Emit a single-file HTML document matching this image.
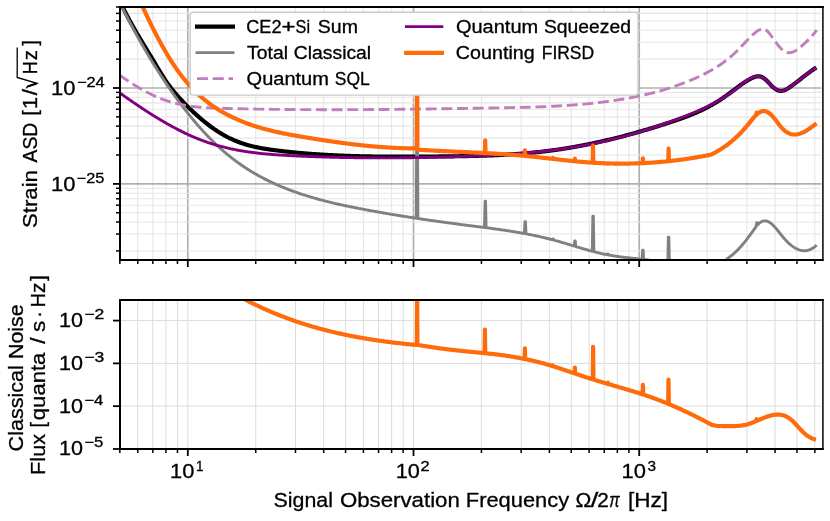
<!DOCTYPE html>
<html><head><meta charset="utf-8"><title>Strain ASD</title>
<style>
html,body{margin:0;padding:0;background:#fff;}
body{width:830px;height:521px;overflow:hidden;font-family:"Liberation Sans",sans-serif;}
svg{display:block;will-change:transform;}
svg text{font-family:"Liberation Sans",sans-serif;fill:#000;stroke:#000;stroke-width:0.3px;}
</style></head><body>
<svg width="830" height="521" viewBox="0 0 830 521">
<defs>
<clipPath id="c1"><rect x="120.00" y="7.00" width="703.00" height="253.00"/></clipPath>
<clipPath id="c2"><rect x="120.00" y="300.00" width="703.00" height="149.00"/></clipPath>
</defs>
<rect width="830" height="521" fill="#fff"/>
<g><line x1="187.80" y1="7.00" x2="187.80" y2="260.00" stroke="#b0b0b0" stroke-width="1.7"/><line x1="413.50" y1="7.00" x2="413.50" y2="260.00" stroke="#b0b0b0" stroke-width="1.7"/><line x1="639.20" y1="7.00" x2="639.20" y2="260.00" stroke="#b0b0b0" stroke-width="1.7"/><line x1="137.73" y1="7.00" x2="137.73" y2="260.00" stroke="#e6e6e6" stroke-width="1.1"/><line x1="152.84" y1="7.00" x2="152.84" y2="260.00" stroke="#e6e6e6" stroke-width="1.1"/><line x1="165.93" y1="7.00" x2="165.93" y2="260.00" stroke="#e6e6e6" stroke-width="1.1"/><line x1="177.47" y1="7.00" x2="177.47" y2="260.00" stroke="#e6e6e6" stroke-width="1.1"/><line x1="255.74" y1="7.00" x2="255.74" y2="260.00" stroke="#e6e6e6" stroke-width="1.1"/><line x1="295.49" y1="7.00" x2="295.49" y2="260.00" stroke="#e6e6e6" stroke-width="1.1"/><line x1="323.68" y1="7.00" x2="323.68" y2="260.00" stroke="#e6e6e6" stroke-width="1.1"/><line x1="345.56" y1="7.00" x2="345.56" y2="260.00" stroke="#e6e6e6" stroke-width="1.1"/><line x1="363.43" y1="7.00" x2="363.43" y2="260.00" stroke="#e6e6e6" stroke-width="1.1"/><line x1="378.54" y1="7.00" x2="378.54" y2="260.00" stroke="#e6e6e6" stroke-width="1.1"/><line x1="391.63" y1="7.00" x2="391.63" y2="260.00" stroke="#e6e6e6" stroke-width="1.1"/><line x1="403.17" y1="7.00" x2="403.17" y2="260.00" stroke="#e6e6e6" stroke-width="1.1"/><line x1="481.44" y1="7.00" x2="481.44" y2="260.00" stroke="#e6e6e6" stroke-width="1.1"/><line x1="521.19" y1="7.00" x2="521.19" y2="260.00" stroke="#e6e6e6" stroke-width="1.1"/><line x1="549.38" y1="7.00" x2="549.38" y2="260.00" stroke="#e6e6e6" stroke-width="1.1"/><line x1="571.26" y1="7.00" x2="571.26" y2="260.00" stroke="#e6e6e6" stroke-width="1.1"/><line x1="589.13" y1="7.00" x2="589.13" y2="260.00" stroke="#e6e6e6" stroke-width="1.1"/><line x1="604.24" y1="7.00" x2="604.24" y2="260.00" stroke="#e6e6e6" stroke-width="1.1"/><line x1="617.33" y1="7.00" x2="617.33" y2="260.00" stroke="#e6e6e6" stroke-width="1.1"/><line x1="628.87" y1="7.00" x2="628.87" y2="260.00" stroke="#e6e6e6" stroke-width="1.1"/><line x1="707.14" y1="7.00" x2="707.14" y2="260.00" stroke="#e6e6e6" stroke-width="1.1"/><line x1="746.89" y1="7.00" x2="746.89" y2="260.00" stroke="#e6e6e6" stroke-width="1.1"/><line x1="775.08" y1="7.00" x2="775.08" y2="260.00" stroke="#e6e6e6" stroke-width="1.1"/><line x1="796.96" y1="7.00" x2="796.96" y2="260.00" stroke="#e6e6e6" stroke-width="1.1"/><line x1="814.83" y1="7.00" x2="814.83" y2="260.00" stroke="#e6e6e6" stroke-width="1.1"/><line x1="120.00" y1="88.00" x2="821.30" y2="88.00" stroke="#b0b0b0" stroke-width="1.7"/><line x1="120.00" y1="183.90" x2="821.30" y2="183.90" stroke="#b0b0b0" stroke-width="1.7"/><line x1="120.00" y1="59.13" x2="821.30" y2="59.13" stroke="#e6e6e6" stroke-width="1.1"/><line x1="120.00" y1="42.24" x2="821.30" y2="42.24" stroke="#e6e6e6" stroke-width="1.1"/><line x1="120.00" y1="30.26" x2="821.30" y2="30.26" stroke="#e6e6e6" stroke-width="1.1"/><line x1="120.00" y1="20.97" x2="821.30" y2="20.97" stroke="#e6e6e6" stroke-width="1.1"/><line x1="120.00" y1="13.38" x2="821.30" y2="13.38" stroke="#e6e6e6" stroke-width="1.1"/><line x1="120.00" y1="155.03" x2="821.30" y2="155.03" stroke="#e6e6e6" stroke-width="1.1"/><line x1="120.00" y1="138.14" x2="821.30" y2="138.14" stroke="#e6e6e6" stroke-width="1.1"/><line x1="120.00" y1="126.16" x2="821.30" y2="126.16" stroke="#e6e6e6" stroke-width="1.1"/><line x1="120.00" y1="116.87" x2="821.30" y2="116.87" stroke="#e6e6e6" stroke-width="1.1"/><line x1="120.00" y1="109.28" x2="821.30" y2="109.28" stroke="#e6e6e6" stroke-width="1.1"/><line x1="120.00" y1="102.86" x2="821.30" y2="102.86" stroke="#e6e6e6" stroke-width="1.1"/><line x1="120.00" y1="97.29" x2="821.30" y2="97.29" stroke="#e6e6e6" stroke-width="1.1"/><line x1="120.00" y1="92.39" x2="821.30" y2="92.39" stroke="#e6e6e6" stroke-width="1.1"/><line x1="120.00" y1="250.93" x2="821.30" y2="250.93" stroke="#e6e6e6" stroke-width="1.1"/><line x1="120.00" y1="234.04" x2="821.30" y2="234.04" stroke="#e6e6e6" stroke-width="1.1"/><line x1="120.00" y1="222.06" x2="821.30" y2="222.06" stroke="#e6e6e6" stroke-width="1.1"/><line x1="120.00" y1="212.77" x2="821.30" y2="212.77" stroke="#e6e6e6" stroke-width="1.1"/><line x1="120.00" y1="205.18" x2="821.30" y2="205.18" stroke="#e6e6e6" stroke-width="1.1"/><line x1="120.00" y1="198.76" x2="821.30" y2="198.76" stroke="#e6e6e6" stroke-width="1.1"/><line x1="120.00" y1="193.19" x2="821.30" y2="193.19" stroke="#e6e6e6" stroke-width="1.1"/><line x1="120.00" y1="188.29" x2="821.30" y2="188.29" stroke="#e6e6e6" stroke-width="1.1"/></g>
<g><line x1="137.73" y1="300.00" x2="137.73" y2="449.00" stroke="#dcdcdc" stroke-width="1"/><line x1="152.84" y1="300.00" x2="152.84" y2="449.00" stroke="#dcdcdc" stroke-width="1"/><line x1="165.93" y1="300.00" x2="165.93" y2="449.00" stroke="#dcdcdc" stroke-width="1"/><line x1="177.47" y1="300.00" x2="177.47" y2="449.00" stroke="#dcdcdc" stroke-width="1"/><line x1="255.74" y1="300.00" x2="255.74" y2="449.00" stroke="#dcdcdc" stroke-width="1"/><line x1="295.49" y1="300.00" x2="295.49" y2="449.00" stroke="#dcdcdc" stroke-width="1"/><line x1="323.68" y1="300.00" x2="323.68" y2="449.00" stroke="#dcdcdc" stroke-width="1"/><line x1="345.56" y1="300.00" x2="345.56" y2="449.00" stroke="#dcdcdc" stroke-width="1"/><line x1="363.43" y1="300.00" x2="363.43" y2="449.00" stroke="#dcdcdc" stroke-width="1"/><line x1="378.54" y1="300.00" x2="378.54" y2="449.00" stroke="#dcdcdc" stroke-width="1"/><line x1="391.63" y1="300.00" x2="391.63" y2="449.00" stroke="#dcdcdc" stroke-width="1"/><line x1="403.17" y1="300.00" x2="403.17" y2="449.00" stroke="#dcdcdc" stroke-width="1"/><line x1="481.44" y1="300.00" x2="481.44" y2="449.00" stroke="#dcdcdc" stroke-width="1"/><line x1="521.19" y1="300.00" x2="521.19" y2="449.00" stroke="#dcdcdc" stroke-width="1"/><line x1="549.38" y1="300.00" x2="549.38" y2="449.00" stroke="#dcdcdc" stroke-width="1"/><line x1="571.26" y1="300.00" x2="571.26" y2="449.00" stroke="#dcdcdc" stroke-width="1"/><line x1="589.13" y1="300.00" x2="589.13" y2="449.00" stroke="#dcdcdc" stroke-width="1"/><line x1="604.24" y1="300.00" x2="604.24" y2="449.00" stroke="#dcdcdc" stroke-width="1"/><line x1="617.33" y1="300.00" x2="617.33" y2="449.00" stroke="#dcdcdc" stroke-width="1"/><line x1="628.87" y1="300.00" x2="628.87" y2="449.00" stroke="#dcdcdc" stroke-width="1"/><line x1="707.14" y1="300.00" x2="707.14" y2="449.00" stroke="#dcdcdc" stroke-width="1"/><line x1="746.89" y1="300.00" x2="746.89" y2="449.00" stroke="#dcdcdc" stroke-width="1"/><line x1="775.08" y1="300.00" x2="775.08" y2="449.00" stroke="#dcdcdc" stroke-width="1"/><line x1="796.96" y1="300.00" x2="796.96" y2="449.00" stroke="#dcdcdc" stroke-width="1"/><line x1="814.83" y1="300.00" x2="814.83" y2="449.00" stroke="#dcdcdc" stroke-width="1"/><line x1="187.80" y1="300.00" x2="187.80" y2="449.00" stroke="#dcdcdc" stroke-width="1"/><line x1="413.50" y1="300.00" x2="413.50" y2="449.00" stroke="#dcdcdc" stroke-width="1"/><line x1="639.20" y1="300.00" x2="639.20" y2="449.00" stroke="#dcdcdc" stroke-width="1"/><line x1="120.00" y1="320.60" x2="821.30" y2="320.60" stroke="#dcdcdc" stroke-width="1"/><line x1="120.00" y1="363.38" x2="821.30" y2="363.38" stroke="#dcdcdc" stroke-width="1"/><line x1="120.00" y1="406.16" x2="821.30" y2="406.16" stroke="#dcdcdc" stroke-width="1"/></g>
<g clip-path="url(#c1)" fill="none" stroke-linejoin="round" stroke-linecap="butt">
<path d="M119.30 -0.01 L120.30 2.14 L121.30 4.24 L122.30 6.31 L123.30 8.34 L124.30 10.34 L125.30 12.31 L126.30 14.25 L127.30 16.15 L128.30 18.03 L129.30 19.89 L130.30 21.72 L131.30 23.52 L132.30 25.31 L133.30 27.08 L134.30 28.82 L135.30 30.55 L136.30 32.27 L137.30 33.97 L138.30 35.66 L139.30 37.34 L140.30 39.01 L141.30 40.67 L142.30 42.32 L143.30 43.98 L144.30 45.62 L145.30 47.27 L146.30 48.92 L147.30 50.57 L148.30 52.22 L149.30 53.87 L150.30 55.53 L151.30 57.19 L152.30 58.86 L153.30 60.52 L154.30 62.19 L155.30 63.87 L156.30 65.54 L157.30 67.21 L158.30 68.87 L159.30 70.53 L160.30 72.17 L161.30 73.79 L162.30 75.40 L163.30 76.98 L164.30 78.54 L165.30 80.06 L166.30 81.55 L167.30 83.01 L168.30 84.42 L169.30 85.79 L170.30 87.12 L171.30 88.42 L172.30 89.68 L173.30 90.91 L174.30 92.12 L175.30 93.29 L176.30 94.45 L177.30 95.59 L178.30 96.71 L179.30 97.81 L180.30 98.90 L181.30 99.98 L182.30 101.04 L183.30 102.09 L184.30 103.13 L185.30 104.15 L186.30 105.16 L187.30 106.16 L188.30 107.16 L189.30 108.14 L190.30 109.11 L191.30 110.07 L192.30 111.02 L193.30 111.96 L194.30 112.89 L195.30 113.80 L196.30 114.71 L197.30 115.61 L198.30 116.49 L199.30 117.37 L200.30 118.23 L201.30 119.08 L202.30 119.92 L203.30 120.75 L204.30 121.57 L205.30 122.38 L206.30 123.17 L207.30 123.96 L208.30 124.73 L209.30 125.49 L210.30 126.23 L211.30 126.97 L212.30 127.69 L213.30 128.40 L214.30 129.10 L215.30 129.78 L216.30 130.46 L217.30 131.12 L218.30 131.76 L219.30 132.40 L220.30 133.02 L221.30 133.63 L222.30 134.22 L223.30 134.81 L224.30 135.37 L225.30 135.93 L226.30 136.47 L227.30 137.00 L228.30 137.51 L229.30 138.02 L230.30 138.50 L231.30 138.98 L232.30 139.44 L233.30 139.88 L234.30 140.32 L235.30 140.74 L236.30 141.15 L237.30 141.55 L238.30 141.93 L239.30 142.31 L240.30 142.67 L241.30 143.02 L242.30 143.37 L243.30 143.70 L244.30 144.02 L245.30 144.33 L246.30 144.63 L247.30 144.92 L248.30 145.20 L249.30 145.48 L250.30 145.74 L251.30 146.00 L252.30 146.24 L253.30 146.48 L254.30 146.72 L255.30 146.94 L256.30 147.16 L257.30 147.37 L258.30 147.57 L259.30 147.77 L260.30 147.96 L261.30 148.15 L262.30 148.33 L263.30 148.50 L264.30 148.67 L265.30 148.84 L266.30 149.00 L267.30 149.15 L268.30 149.30 L269.30 149.45 L270.30 149.59 L271.30 149.73 L272.30 149.87 L273.30 150.01 L274.30 150.14 L275.30 150.27 L276.30 150.39 L277.30 150.52 L278.30 150.64 L279.30 150.76 L280.30 150.89 L281.30 151.00 L282.30 151.12 L283.30 151.24 L284.30 151.35 L285.30 151.46 L286.30 151.57 L287.30 151.68 L288.30 151.79 L289.30 151.90 L290.30 152.00 L291.30 152.11 L292.30 152.21 L293.30 152.31 L294.30 152.41 L295.30 152.51 L296.30 152.60 L297.30 152.70 L298.30 152.79 L299.30 152.88 L300.30 152.97 L301.30 153.06 L302.30 153.15 L303.30 153.24 L304.30 153.32 L305.30 153.41 L306.30 153.49 L307.30 153.57 L308.30 153.65 L309.30 153.73 L310.30 153.81 L311.30 153.88 L312.30 153.96 L313.30 154.03 L314.30 154.10 L315.30 154.17 L316.30 154.24 L317.30 154.31 L318.30 154.38 L319.30 154.44 L320.30 154.51 L321.30 154.57 L322.30 154.64 L323.30 154.70 L324.30 154.76 L325.30 154.82 L326.30 154.87 L327.30 154.93 L328.30 154.99 L329.30 155.04 L330.30 155.09 L331.30 155.15 L332.30 155.20 L333.30 155.25 L334.30 155.30 L335.30 155.34 L336.30 155.39 L337.30 155.44 L338.30 155.48 L339.30 155.52 L340.30 155.57 L341.30 155.61 L342.30 155.65 L343.30 155.69 L344.30 155.73 L345.30 155.77 L346.30 155.80 L347.30 155.84 L348.30 155.87 L349.30 155.91 L350.30 155.94 L351.30 155.97 L352.30 156.01 L353.30 156.04 L354.30 156.07 L355.30 156.10 L356.30 156.12 L357.30 156.15 L358.30 156.18 L359.30 156.20 L360.30 156.23 L361.30 156.25 L362.30 156.27 L363.30 156.30 L364.30 156.32 L365.30 156.34 L366.30 156.36 L367.30 156.38 L368.30 156.40 L369.30 156.42 L370.30 156.43 L371.30 156.45 L372.30 156.46 L373.30 156.48 L374.30 156.49 L375.30 156.51 L376.30 156.52 L377.30 156.53 L378.30 156.54 L379.30 156.56 L380.30 156.57 L381.30 156.58 L382.30 156.59 L383.30 156.59 L384.30 156.60 L385.30 156.61 L386.30 156.62 L387.30 156.62 L388.30 156.63 L389.30 156.64 L390.30 156.64 L391.30 156.64 L392.30 156.65 L393.30 156.65 L394.30 156.66 L395.30 156.66 L396.30 156.66 L397.30 156.66 L398.30 156.66 L399.30 156.66 L400.30 156.66 L401.30 156.66 L402.30 156.66 L403.30 156.66 L404.30 156.66 L405.30 156.66 L406.30 156.66 L407.30 156.65 L408.30 156.65 L409.30 156.65 L410.30 156.64 L411.30 156.64 L412.30 156.64 L413.30 156.63 L414.30 156.63 L415.30 156.62 L416.30 156.62 L417.30 156.61 L418.30 156.61 L419.30 156.60 L420.30 156.60 L421.30 156.59 L422.30 156.58 L423.30 156.58 L424.30 156.57 L425.30 156.56 L426.30 156.55 L427.30 156.55 L428.30 156.54 L429.30 156.53 L430.30 156.52 L431.30 156.52 L432.30 156.51 L433.30 156.50 L434.30 156.49 L435.30 156.48 L436.30 156.47 L437.30 156.47 L438.30 156.46 L439.30 156.45 L440.30 156.44 L441.30 156.43 L442.30 156.42 L443.30 156.41 L444.30 156.40 L445.30 156.39 L446.30 156.38 L447.30 156.37 L448.30 156.36 L449.30 156.35 L450.30 156.34 L451.30 156.33 L452.30 156.31 L453.30 156.30 L454.30 156.29 L455.30 156.27 L456.30 156.26 L457.30 156.25 L458.30 156.23 L459.30 156.22 L460.30 156.20 L461.30 156.18 L462.30 156.17 L463.30 156.15 L464.30 156.13 L465.30 156.11 L466.30 156.10 L467.30 156.08 L468.30 156.06 L469.30 156.04 L470.30 156.01 L471.30 155.99 L472.30 155.97 L473.30 155.94 L474.30 155.92 L475.30 155.90 L476.30 155.87 L477.30 155.84 L478.30 155.82 L479.30 155.79 L480.30 155.76 L481.30 155.73 L482.30 155.70 L483.30 155.67 L484.30 155.63 L485.30 155.60 L486.30 155.57 L487.30 155.53 L488.30 155.49 L489.30 155.46 L490.30 155.42 L491.30 155.38 L492.30 155.34 L493.30 155.30 L494.30 155.25 L495.30 155.21 L496.30 155.17 L497.30 155.12 L498.30 155.07 L499.30 155.03 L500.30 154.98 L501.30 154.93 L502.30 154.87 L503.30 154.82 L504.30 154.77 L505.30 154.71 L506.30 154.65 L507.30 154.60 L508.30 154.54 L509.30 154.48 L510.30 154.42 L511.30 154.35 L512.30 154.29 L513.30 154.22 L514.30 154.15 L515.30 154.08 L516.30 154.01 L517.30 153.94 L518.30 153.87 L519.30 153.79 L520.30 153.72 L521.30 153.64 L522.30 153.56 L523.30 153.48 L524.30 153.40 L525.30 153.31 L526.30 153.23 L527.30 153.14 L528.30 153.05 L529.30 152.96 L530.30 152.87 L531.30 152.78 L532.30 152.68 L533.30 152.58 L534.30 152.48 L535.30 152.38 L536.30 152.28 L537.30 152.18 L538.30 152.07 L539.30 151.96 L540.30 151.85 L541.30 151.74 L542.30 151.63 L543.30 151.51 L544.30 151.39 L545.30 151.27 L546.30 151.15 L547.30 151.03 L548.30 150.90 L549.30 150.78 L550.30 150.65 L551.30 150.52 L552.30 150.38 L553.30 150.25 L554.30 150.11 L555.30 149.97 L556.30 149.83 L557.30 149.69 L558.30 149.54 L559.30 149.39 L560.30 149.25 L561.30 149.09 L562.30 148.94 L563.30 148.79 L564.30 148.63 L565.30 148.47 L566.30 148.31 L567.30 148.15 L568.30 147.98 L569.30 147.82 L570.30 147.65 L571.30 147.48 L572.30 147.31 L573.30 147.13 L574.30 146.96 L575.30 146.78 L576.30 146.60 L577.30 146.42 L578.30 146.23 L579.30 146.05 L580.30 145.86 L581.30 145.67 L582.30 145.48 L583.30 145.29 L584.30 145.09 L585.30 144.90 L586.30 144.70 L587.30 144.50 L588.30 144.30 L589.30 144.09 L590.30 143.89 L591.30 143.68 L592.30 143.47 L593.30 143.26 L594.30 143.05 L595.30 142.84 L596.30 142.62 L597.30 142.40 L598.30 142.18 L599.30 141.96 L600.30 141.74 L601.30 141.52 L602.30 141.29 L603.30 141.06 L604.30 140.83 L605.30 140.60 L606.30 140.37 L607.30 140.13 L608.30 139.90 L609.30 139.66 L610.30 139.42 L611.30 139.18 L612.30 138.94 L613.30 138.69 L614.30 138.44 L615.30 138.20 L616.30 137.95 L617.30 137.70 L618.30 137.44 L619.30 137.19 L620.30 136.93 L621.30 136.68 L622.30 136.42 L623.30 136.16 L624.30 135.89 L625.30 135.63 L626.30 135.36 L627.30 135.10 L628.30 134.83 L629.30 134.56 L630.30 134.29 L631.30 134.01 L632.30 133.74 L633.30 133.46 L634.30 133.19 L635.30 132.91 L636.30 132.63 L637.30 132.34 L638.30 132.06 L639.30 131.77 L640.30 131.49 L641.30 131.20 L642.30 130.91 L643.30 130.62 L644.30 130.33 L645.30 130.03 L646.30 129.74 L647.30 129.44 L648.30 129.14 L649.30 128.84 L650.30 128.54 L651.30 128.24 L652.30 127.93 L653.30 127.63 L654.30 127.32 L655.30 127.01 L656.30 126.70 L657.30 126.39 L658.30 126.08 L659.30 125.76 L660.30 125.45 L661.30 125.13 L662.30 124.81 L663.30 124.49 L664.30 124.17 L665.30 123.85 L666.30 123.53 L667.30 123.20 L668.30 122.88 L669.30 122.55 L670.30 122.22 L671.30 121.89 L672.30 121.56 L673.30 121.23 L674.30 120.89 L675.30 120.55 L676.30 120.21 L677.30 119.87 L678.30 119.52 L679.30 119.17 L680.30 118.82 L681.30 118.46 L682.30 118.10 L683.30 117.73 L684.30 117.37 L685.30 116.99 L686.30 116.62 L687.30 116.23 L688.30 115.85 L689.30 115.46 L690.30 115.06 L691.30 114.66 L692.30 114.25 L693.30 113.84 L694.30 113.42 L695.30 112.99 L696.30 112.56 L697.30 112.12 L698.30 111.67 L699.30 111.22 L700.30 110.76 L701.30 110.29 L702.30 109.82 L703.30 109.33 L704.30 108.84 L705.30 108.35 L706.30 107.84 L707.30 107.32 L708.30 106.80 L709.30 106.27 L710.30 105.72 L711.30 105.17 L712.30 104.61 L713.30 104.04 L714.30 103.46 L715.30 102.87 L716.30 102.27 L717.30 101.66 L718.30 101.04 L719.30 100.40 L720.30 99.76 L721.30 99.10 L722.30 98.44 L723.30 97.76 L724.30 97.07 L725.30 96.37 L726.30 95.65 L727.30 94.93 L728.30 94.20 L729.30 93.46 L730.30 92.71 L731.30 91.96 L732.30 91.21 L733.30 90.46 L734.30 89.71 L735.30 88.96 L736.30 88.21 L737.30 87.46 L738.30 86.73 L739.30 86.00 L740.30 85.28 L741.30 84.57 L742.30 83.87 L743.30 83.19 L744.30 82.52 L745.30 81.87 L746.30 81.24 L747.30 80.62 L748.30 80.03 L749.30 79.46 L750.30 78.91 L751.30 78.39 L752.30 77.90 L753.30 77.46 L754.30 77.06 L755.30 76.73 L756.30 76.48 L757.30 76.32 L758.30 76.26 L759.30 76.31 L760.30 76.48 L761.30 76.78 L762.30 77.24 L763.30 77.83 L764.30 78.54 L765.30 79.35 L766.30 80.26 L767.30 81.25 L768.30 82.28 L769.30 83.34 L770.30 84.41 L771.30 85.45 L772.30 86.44 L773.30 87.36 L774.30 88.19 L775.30 88.92 L776.30 89.54 L777.30 90.06 L778.30 90.46 L779.30 90.73 L780.30 90.88 L781.30 90.90 L782.30 90.79 L783.30 90.57 L784.30 90.25 L785.30 89.84 L786.30 89.36 L787.30 88.80 L788.30 88.19 L789.30 87.53 L790.30 86.84 L791.30 86.12 L792.30 85.39 L793.30 84.66 L794.30 83.91 L795.30 83.15 L796.30 82.39 L797.30 81.62 L798.30 80.85 L799.30 80.07 L800.30 79.29 L801.30 78.51 L802.30 77.73 L803.30 76.96 L804.30 76.18 L805.30 75.41 L806.30 74.64 L807.30 73.88 L808.30 73.13 L809.30 72.38 L810.30 71.65 L811.30 70.92 L812.30 70.21 L813.30 69.51 L814.30 68.83 L815.30 68.16 L816.30 67.51" stroke="#000" stroke-width="4.17"/>
<path d="M118.60 0.00 L119.60 2.05 L120.60 4.09 L121.60 6.11 L122.60 8.12 L123.60 10.11 L124.60 12.09 L125.60 14.06 L126.60 16.01 L127.60 17.95 L128.60 19.88 L129.60 21.80 L130.60 23.70 L131.60 25.59 L132.60 27.46 L133.60 29.33 L134.60 31.18 L135.60 33.02 L136.60 34.84 L137.60 36.66 L138.60 38.46 L139.60 40.25 L140.60 42.02 L141.60 43.79 L142.60 45.54 L143.60 47.28 L144.60 49.01 L145.60 50.72 L146.60 52.43 L147.60 54.12 L148.60 55.80 L149.60 57.47 L150.60 59.13 L151.60 60.78 L152.60 62.41 L153.60 64.04 L154.60 65.65 L155.60 67.25 L156.60 68.84 L157.60 70.42 L158.60 71.99 L159.60 73.55 L160.60 75.10 L161.60 76.63 L162.60 78.16 L163.60 79.67 L164.60 81.18 L165.60 82.67 L166.60 84.16 L167.60 85.63 L168.60 87.10 L169.60 88.55 L170.60 89.99 L171.60 91.42 L172.60 92.85 L173.60 94.26 L174.60 95.66 L175.60 97.05 L176.60 98.43 L177.60 99.80 L178.60 101.16 L179.60 102.51 L180.60 103.85 L181.60 105.18 L182.60 106.50 L183.60 107.80 L184.60 109.10 L185.60 110.38 L186.60 111.66 L187.60 112.92 L188.60 114.18 L189.60 115.42 L190.60 116.66 L191.60 117.88 L192.60 119.09 L193.60 120.29 L194.60 121.48 L195.60 122.66 L196.60 123.83 L197.60 124.98 L198.60 126.13 L199.60 127.27 L200.60 128.39 L201.60 129.51 L202.60 130.61 L203.60 131.70 L204.60 132.78 L205.60 133.86 L206.60 134.91 L207.60 135.96 L208.60 137.00 L209.60 138.03 L210.60 139.04 L211.60 140.05 L212.60 141.04 L213.60 142.03 L214.60 143.00 L215.60 143.96 L216.60 144.91 L217.60 145.85 L218.60 146.77 L219.60 147.69 L220.60 148.60 L221.60 149.49 L222.60 150.37 L223.60 151.24 L224.60 152.11 L225.60 152.96 L226.60 153.80 L227.60 154.62 L228.60 155.44 L229.60 156.25 L230.60 157.05 L231.60 157.84 L232.60 158.62 L233.60 159.38 L234.60 160.14 L235.60 160.89 L236.60 161.63 L237.60 162.36 L238.60 163.08 L239.60 163.79 L240.60 164.49 L241.60 165.19 L242.60 165.87 L243.60 166.54 L244.60 167.21 L245.60 167.87 L246.60 168.52 L247.60 169.16 L248.60 169.79 L249.60 170.42 L250.60 171.03 L251.60 171.64 L252.60 172.24 L253.60 172.83 L254.60 173.42 L255.60 174.00 L256.60 174.57 L257.60 175.13 L258.60 175.69 L259.60 176.23 L260.60 176.78 L261.60 177.31 L262.60 177.84 L263.60 178.36 L264.60 178.88 L265.60 179.38 L266.60 179.89 L267.60 180.38 L268.60 180.87 L269.60 181.35 L270.60 181.83 L271.60 182.30 L272.60 182.77 L273.60 183.23 L274.60 183.69 L275.60 184.14 L276.60 184.58 L277.60 185.02 L278.60 185.45 L279.60 185.88 L280.60 186.31 L281.60 186.73 L282.60 187.14 L283.60 187.55 L284.60 187.96 L285.60 188.36 L286.60 188.75 L287.60 189.15 L288.60 189.53 L289.60 189.92 L290.60 190.29 L291.60 190.67 L292.60 191.04 L293.60 191.40 L294.60 191.76 L295.60 192.12 L296.60 192.47 L297.60 192.82 L298.60 193.17 L299.60 193.51 L300.60 193.85 L301.60 194.18 L302.60 194.51 L303.60 194.83 L304.60 195.16 L305.60 195.47 L306.60 195.79 L307.60 196.10 L308.60 196.41 L309.60 196.71 L310.60 197.01 L311.60 197.31 L312.60 197.60 L313.60 197.89 L314.60 198.18 L315.60 198.46 L316.60 198.75 L317.60 199.02 L318.60 199.30 L319.60 199.57 L320.60 199.84 L321.60 200.11 L322.60 200.37 L323.60 200.63 L324.60 200.89 L325.60 201.14 L326.60 201.40 L327.60 201.65 L328.60 201.89 L329.60 202.14 L330.60 202.38 L331.60 202.62 L332.60 202.86 L333.60 203.09 L334.60 203.33 L335.60 203.56 L336.60 203.79 L337.60 204.01 L338.60 204.24 L339.60 204.46 L340.60 204.68 L341.60 204.90 L342.60 205.12 L343.60 205.33 L344.60 205.55 L345.60 205.76 L346.60 205.97 L347.60 206.18 L348.60 206.38 L349.60 206.59 L350.60 206.79 L351.60 207.00 L352.60 207.20 L353.60 207.40 L354.60 207.60 L355.60 207.79 L356.60 207.99 L357.60 208.18 L358.60 208.38 L359.60 208.57 L360.60 208.76 L361.60 208.95 L362.60 209.14 L363.60 209.33 L364.60 209.52 L365.60 209.71 L366.60 209.90 L367.60 210.08 L368.60 210.27 L369.60 210.45 L370.60 210.64 L371.60 210.82 L372.60 211.00 L373.60 211.18 L374.60 211.36 L375.60 211.54 L376.60 211.72 L377.60 211.90 L378.60 212.08 L379.60 212.25 L380.60 212.43 L381.60 212.61 L382.60 212.78 L383.60 212.95 L384.60 213.13 L385.60 213.30 L386.60 213.47 L387.60 213.64 L388.60 213.81 L389.60 213.98 L390.60 214.15 L391.60 214.32 L392.60 214.48 L393.60 214.65 L394.60 214.82 L395.60 214.98 L396.60 215.15 L397.60 215.31 L398.60 215.47 L399.60 215.63 L400.60 215.80 L401.60 215.96 L402.60 216.12 L403.60 216.28 L404.60 216.44 L405.60 216.59 L406.60 216.75 L407.60 216.91 L408.60 217.07 L409.60 217.22 L410.60 217.38 L411.60 217.53 L412.60 217.69 L413.60 217.84 L414.60 217.99 L415.60 218.14 L416.30 218.25 L416.85 100.00 L417.35 100.00 L417.90 218.49 L418.60 218.60 L419.60 218.75 L420.60 218.90 L421.60 219.05 L422.60 219.19 L423.60 219.34 L424.60 219.49 L425.60 219.64 L426.60 219.78 L427.60 219.93 L428.60 220.07 L429.60 220.22 L430.60 220.36 L431.60 220.50 L432.60 220.65 L433.60 220.79 L434.60 220.93 L435.60 221.07 L436.60 221.21 L437.60 221.35 L438.60 221.49 L439.60 221.63 L440.60 221.77 L441.60 221.91 L442.60 222.05 L443.60 222.18 L444.60 222.32 L445.60 222.46 L446.60 222.59 L447.60 222.73 L448.60 222.86 L449.60 223.00 L450.60 223.13 L451.60 223.27 L452.60 223.40 L453.60 223.53 L454.60 223.67 L455.60 223.80 L456.60 223.93 L457.60 224.06 L458.60 224.19 L459.60 224.32 L460.60 224.45 L461.60 224.58 L462.60 224.71 L463.60 224.84 L464.60 224.97 L465.60 225.10 L466.60 225.23 L467.60 225.36 L468.60 225.48 L469.60 225.61 L470.60 225.74 L471.60 225.86 L472.60 225.99 L473.60 226.12 L474.60 226.24 L475.60 226.37 L476.60 226.50 L477.60 226.63 L478.60 226.75 L479.60 226.88 L480.60 227.01 L481.60 227.14 L482.60 227.27 L483.60 227.39 L484.50 227.51 L485.05 201.20 L485.55 201.20 L486.10 227.72 L486.60 227.78 L487.60 227.91 L488.60 228.05 L489.60 228.18 L490.60 228.31 L491.60 228.45 L492.60 228.58 L493.60 228.72 L494.60 228.85 L495.60 228.99 L496.60 229.13 L497.60 229.27 L498.60 229.41 L499.60 229.55 L500.60 229.69 L501.60 229.83 L502.60 229.98 L503.60 230.13 L504.60 230.27 L505.60 230.42 L506.60 230.57 L507.60 230.73 L508.60 230.88 L509.60 231.03 L510.60 231.19 L511.60 231.35 L512.60 231.51 L513.60 231.67 L514.60 231.83 L515.60 232.00 L516.60 232.17 L517.60 232.33 L518.60 232.50 L519.60 232.68 L520.60 232.85 L521.60 233.03 L522.60 233.21 L523.60 233.39 L524.40 233.54 L524.95 221.80 L525.45 221.80 L526.00 233.83 L526.60 233.95 L527.60 234.14 L528.60 234.33 L529.60 234.53 L530.60 234.72 L531.60 234.92 L532.60 235.13 L533.60 235.33 L534.60 235.54 L535.60 235.75 L536.60 235.96 L537.60 236.18 L538.60 236.40 L539.60 236.62 L540.60 236.84 L541.60 237.07 L542.60 237.30 L543.60 237.54 L544.60 237.77 L545.60 238.01 L546.60 238.26 L547.60 238.50 L548.60 238.75 L549.60 239.01 L550.60 239.26 L551.60 239.52 L552.30 239.71 L552.85 239.00 L553.35 239.00 L553.90 240.13 L554.60 240.32 L555.60 240.59 L556.60 240.87 L557.60 241.15 L558.60 241.43 L559.60 241.72 L560.60 242.01 L561.60 242.29 L562.60 242.59 L563.60 242.88 L564.60 243.18 L565.60 243.47 L566.60 243.77 L567.60 244.07 L568.60 244.37 L569.60 244.67 L570.60 244.97 L571.60 245.27 L572.60 245.57 L573.60 245.88 L574.20 246.06 L574.75 241.00 L575.25 241.00 L575.80 246.54 L576.60 246.78 L577.60 247.08 L578.60 247.38 L579.60 247.68 L580.60 247.97 L581.60 248.27 L582.60 248.56 L583.60 248.85 L584.60 249.14 L585.60 249.43 L586.60 249.72 L587.60 250.00 L588.60 250.28 L589.60 250.55 L590.60 250.83 L591.60 251.10 L592.30 251.29 L592.85 216.20 L593.35 216.20 L593.90 251.71 L594.60 251.89 L595.60 252.14 L596.60 252.39 L597.60 252.64 L598.60 252.88 L599.60 253.12 L600.60 253.35 L601.60 253.58 L602.60 253.80 L603.60 254.01 L604.60 254.22 L605.60 254.43 L606.60 254.63 L607.00 254.70 L607.55 253.90 L608.05 253.90 L608.60 255.00 L608.60 255.00 L609.60 255.18 L610.60 255.36 L611.60 255.53 L612.60 255.69 L613.60 255.85 L614.60 256.00 L615.60 256.15 L616.60 256.30 L617.60 256.44 L618.60 256.58 L619.60 256.71 L620.60 256.84 L621.60 256.97 L622.60 257.09 L623.60 257.22 L624.60 257.34 L625.60 257.45 L626.60 257.57 L627.60 257.68 L628.60 257.79 L629.60 257.91 L630.60 258.01 L631.60 258.12 L632.60 258.23 L633.60 258.34 L634.60 258.45 L635.60 258.56 L636.60 258.66 L637.60 258.77 L638.60 258.88 L639.60 258.99 L640.60 259.10 L641.60 259.22 L642.10 259.27 L642.65 250.10 L643.15 250.10 L643.70 259.46 L644.60 259.57 L645.60 259.69 L646.60 259.81 L647.60 259.94 L648.60 260.07 L649.60 260.20 L650.60 260.34 L651.60 260.48 L652.60 260.62 L653.60 260.77 L654.60 260.92 L655.60 261.08 L656.60 261.24 L657.60 261.41 L658.60 261.58 L659.60 261.76 L660.60 261.94 L661.60 262.13 L662.60 262.33 L663.60 262.53 L664.60 262.74 L665.60 262.96 L666.60 263.18 L667.60 263.41 L667.80 263.46 L668.35 237.30 L668.85 237.30 L669.40 263.85 L669.60 263.90 L670.00 264.00" stroke="#808080" stroke-width="2.90"/>
<path d="M715.00 270.00 L716.00 268.86 L717.00 267.77 L718.00 266.74 L719.00 265.76 L720.00 264.82 L721.00 263.92 L722.00 263.05 L723.00 262.21 L724.00 261.39 L725.00 260.59 L726.00 259.81 L727.00 259.03 L728.00 258.26 L729.00 257.49 L730.00 256.71 L731.00 255.91 L732.00 255.11 L733.00 254.27 L734.00 253.42 L735.00 252.53 L736.00 251.60 L737.00 250.63 L738.00 249.63 L739.00 248.58 L740.00 247.50 L741.00 246.38 L742.00 245.23 L743.00 244.05 L744.00 242.84 L745.00 241.60 L746.00 240.33 L747.00 239.04 L748.00 237.73 L749.00 236.40 L750.00 235.04 L751.00 233.67 L752.00 232.28 L753.00 230.88 L754.00 229.48 L755.00 228.09 L756.00 226.77 L756.20 226.51 L756.75 222.60 L757.25 222.60 L757.80 224.63 L758.00 224.42 L759.00 223.45 L760.00 222.63 L761.00 221.97 L762.00 221.46 L763.00 221.11 L764.00 220.91 L765.00 220.86 L766.00 220.96 L767.00 221.19 L768.00 221.56 L769.00 222.05 L770.00 222.66 L771.00 223.38 L772.00 224.21 L773.00 225.14 L774.00 226.15 L775.00 227.24 L776.00 228.38 L777.00 229.57 L778.00 230.79 L779.00 232.05 L780.00 233.31 L781.00 234.57 L782.00 235.82 L783.00 237.05 L784.00 238.24 L785.00 239.38 L786.00 240.47 L787.00 241.51 L788.00 242.50 L789.00 243.44 L790.00 244.32 L791.00 245.15 L792.00 245.92 L793.00 246.64 L794.00 247.31 L795.00 247.91 L796.00 248.46 L797.00 248.95 L798.00 249.38 L799.00 249.76 L800.00 250.07 L801.00 250.32 L802.00 250.51 L803.00 250.63 L804.00 250.69 L805.00 250.68 L806.00 250.60 L807.00 250.46 L808.00 250.24 L809.00 249.95 L810.00 249.58 L811.00 249.14 L812.00 248.62 L813.00 248.02 L814.00 247.34 L815.00 246.58 L816.00 245.74 L816.70 245.10" stroke="#808080" stroke-width="2.90"/>
<path d="M117.00 73.21 L117.50 73.57 L118.00 73.94 L118.50 74.30 L119.00 74.66 L119.50 75.02 L120.00 75.38 L120.50 75.73 L121.00 76.09 L121.50 76.44 L122.00 76.79 L122.50 77.15 L123.00 77.49 L123.50 77.84 L124.00 78.19 L124.50 78.53 L125.00 78.88 L125.50 79.22 L126.00 79.56 L126.50 79.90 L127.00 80.23 L127.50 80.57 L128.00 80.90 L128.50 81.23 L129.00 81.56 L129.50 81.89 L130.00 82.22 L130.50 82.54 L131.00 82.87 L131.50 83.19 L132.00 83.51 L132.50 83.83 L133.00 84.14 L133.50 84.46 L134.00 84.77 L134.50 85.08 L135.00 85.39 L135.50 85.70 L136.00 86.00 L136.50 86.31 L137.00 86.61 L137.50 86.91 L138.00 87.21 L138.50 87.50 L139.00 87.80 L139.50 88.09 L140.00 88.38 L140.50 88.67 L141.00 88.96 L141.50 89.24 L142.00 89.52 L142.50 89.80 L143.00 90.08 L143.50 90.36 L144.00 90.63 L144.50 90.91 L145.00 91.18 L145.50 91.45 L146.00 91.71 L146.50 91.98 L147.00 92.24 L147.50 92.50 L148.00 92.76 L148.50 93.01 L149.00 93.26 L149.50 93.52 L150.00 93.76 L150.50 94.01 L151.00 94.26 L151.50 94.50 L152.00 94.74 L152.50 94.98 L153.00 95.21 L153.50 95.45 L154.00 95.68 L154.50 95.91 L155.00 96.13 L155.50 96.36 L156.00 96.58 L156.50 96.80 L157.00 97.01 L157.50 97.23 L158.00 97.44 L158.50 97.65 L159.00 97.86 L159.50 98.06 L160.00 98.27 L160.50 98.47 L161.00 98.66 L161.50 98.86 L162.00 99.05 L162.50 99.24 L163.00 99.43 L163.50 99.61 L164.00 99.80 L164.50 99.98 L165.00 100.15 L165.50 100.33 L166.00 100.50 L166.50 100.67 L167.00 100.84 L167.50 101.00 L168.00 101.17 L168.50 101.32 L169.00 101.48 L169.50 101.64 L170.00 101.79 L170.50 101.94 L171.00 102.09 L171.50 102.23 L172.00 102.37 L172.50 102.51 L173.00 102.65 L173.50 102.79 L174.00 102.92 L174.50 103.05 L175.00 103.18 L175.50 103.31 L176.00 103.43 L176.50 103.55 L177.00 103.67 L177.50 103.79 L178.00 103.91 L178.50 104.02 L179.00 104.13 L179.50 104.24 L180.00 104.35 L180.50 104.45 L181.00 104.56 L181.50 104.66 L182.00 104.76 L182.50 104.85 L183.00 104.95 L183.50 105.04 L184.00 105.14 L184.50 105.23 L185.00 105.31 L185.50 105.40 L186.00 105.49 L186.50 105.57 L187.00 105.65 L187.50 105.73 L188.00 105.81 L188.50 105.88 L189.00 105.96 L189.50 106.03 L190.00 106.10 L190.50 106.17 L191.00 106.24 L191.50 106.31 L192.00 106.37 L192.50 106.44 L193.00 106.50 L193.50 106.56 L194.00 106.62 L194.50 106.68 L195.00 106.73 L195.50 106.79 L196.00 106.84 L196.50 106.90 L197.00 106.95 L197.50 107.00 L198.00 107.05 L198.50 107.09 L199.00 107.14 L199.50 107.19 L200.00 107.23 L200.50 107.27 L201.00 107.31 L201.50 107.36 L202.00 107.39 L202.50 107.43 L203.00 107.47 L203.50 107.51 L204.00 107.54 L204.50 107.58 L205.00 107.61 L205.50 107.64 L206.00 107.67 L206.50 107.71 L207.00 107.74 L207.50 107.76 L208.00 107.79 L208.50 107.82 L209.00 107.85 L209.50 107.87 L210.00 107.90 L210.50 107.92 L211.00 107.95 L211.50 107.97 L212.00 107.99 L212.50 108.01 L213.00 108.03 L213.50 108.05 L214.00 108.07 L214.50 108.09 L215.00 108.11 L215.50 108.13 L216.00 108.15 L216.50 108.17 L217.00 108.18 L217.50 108.20 L218.00 108.22 L218.50 108.23 L219.00 108.25 L219.50 108.26 L220.00 108.28 L220.50 108.29 L221.00 108.31 L221.50 108.32 L222.00 108.34 L222.50 108.35 L223.00 108.36 L223.50 108.38 L224.00 108.39 L224.50 108.40 L225.00 108.41 L225.50 108.43 L226.00 108.44 L226.50 108.45 L227.00 108.47 L227.50 108.48 L228.00 108.49 L228.50 108.50 L229.00 108.52 L229.50 108.53 L230.00 108.54 L230.50 108.55 L231.00 108.56 L231.50 108.58 L232.00 108.59 L232.50 108.60 L233.00 108.61 L233.50 108.62 L234.00 108.63 L234.50 108.65 L235.00 108.66 L235.50 108.67 L236.00 108.68 L236.50 108.69 L237.00 108.70 L237.50 108.71 L238.00 108.73 L238.50 108.74 L239.00 108.75 L239.50 108.76 L240.00 108.77 L240.50 108.78 L241.00 108.79 L241.50 108.80 L242.00 108.81 L242.50 108.82 L243.00 108.83 L243.50 108.84 L244.00 108.85 L244.50 108.86 L245.00 108.87 L245.50 108.88 L246.00 108.89 L246.50 108.90 L247.00 108.91 L247.50 108.92 L248.00 108.93 L248.50 108.94 L249.00 108.95 L249.50 108.96 L250.00 108.97 L250.50 108.98 L251.00 108.99 L251.50 109.00 L252.00 109.01 L252.50 109.02 L253.00 109.03 L253.50 109.03 L254.00 109.04 L254.50 109.05 L255.00 109.06 L255.50 109.07 L256.00 109.08 L256.50 109.09 L257.00 109.09 L257.50 109.10 L258.00 109.11 L258.50 109.12 L259.00 109.13 L259.50 109.14 L260.00 109.14 L260.50 109.15 L261.00 109.16 L261.50 109.17 L262.00 109.18 L262.50 109.18 L263.00 109.19 L263.50 109.20 L264.00 109.21 L264.50 109.21 L265.00 109.22 L265.50 109.23 L266.00 109.24 L266.50 109.24 L267.00 109.25 L267.50 109.26 L268.00 109.26 L268.50 109.27 L269.00 109.28 L269.50 109.29 L270.00 109.29 L270.50 109.30 L271.00 109.31 L271.50 109.31 L272.00 109.32 L272.50 109.33 L273.00 109.33 L273.50 109.34 L274.00 109.34 L274.50 109.35 L275.00 109.36 L275.50 109.36 L276.00 109.37 L276.50 109.37 L277.00 109.38 L277.50 109.39 L278.00 109.39 L278.50 109.40 L279.00 109.40 L279.50 109.41 L280.00 109.42 L280.50 109.42 L281.00 109.43 L281.50 109.43 L282.00 109.44 L282.50 109.44 L283.00 109.45 L283.50 109.45 L284.00 109.46 L284.50 109.46 L285.00 109.47 L285.50 109.47 L286.00 109.48 L286.50 109.48 L287.00 109.49 L287.50 109.49 L288.00 109.50 L288.50 109.50 L289.00 109.51 L289.50 109.51 L290.00 109.51 L290.50 109.52 L291.00 109.52 L291.50 109.53 L292.00 109.53 L292.50 109.54 L293.00 109.54 L293.50 109.54 L294.00 109.55 L294.50 109.55 L295.00 109.55 L295.50 109.56 L296.00 109.56 L296.50 109.57 L297.00 109.57 L297.50 109.57 L298.00 109.58 L298.50 109.58 L299.00 109.58 L299.50 109.59 L300.00 109.59 L300.50 109.59 L301.00 109.60 L301.50 109.60 L302.00 109.60 L302.50 109.61 L303.00 109.61 L303.50 109.61 L304.00 109.61 L304.50 109.62 L305.00 109.62 L305.50 109.62 L306.00 109.63 L306.50 109.63 L307.00 109.63 L307.50 109.63 L308.00 109.64 L308.50 109.64 L309.00 109.64 L309.50 109.64 L310.00 109.64 L310.50 109.65 L311.00 109.65 L311.50 109.65 L312.00 109.65 L312.50 109.65 L313.00 109.66 L313.50 109.66 L314.00 109.66 L314.50 109.66 L315.00 109.66 L315.50 109.66 L316.00 109.67 L316.50 109.67 L317.00 109.67 L317.50 109.67 L318.00 109.67 L318.50 109.67 L319.00 109.67 L319.50 109.68 L320.00 109.68 L320.50 109.68 L321.00 109.68 L321.50 109.68 L322.00 109.68 L322.50 109.68 L323.00 109.68 L323.50 109.68 L324.00 109.68 L324.50 109.69 L325.00 109.69 L325.50 109.69 L326.00 109.69 L326.50 109.69 L327.00 109.69 L327.50 109.69 L328.00 109.69 L328.50 109.69 L329.00 109.69 L329.50 109.69 L330.00 109.69 L330.50 109.69 L331.00 109.69 L331.50 109.69 L332.00 109.69 L332.50 109.69 L333.00 109.69 L333.50 109.69 L334.00 109.69 L334.50 109.69 L335.00 109.69 L335.50 109.69 L336.00 109.69 L336.50 109.69 L337.00 109.69 L337.50 109.69 L338.00 109.69 L338.50 109.69 L339.00 109.69 L339.50 109.68 L340.00 109.68 L340.50 109.68 L341.00 109.68 L341.50 109.68 L342.00 109.68 L342.50 109.68 L343.00 109.68 L343.50 109.68 L344.00 109.68 L344.50 109.68 L345.00 109.67 L345.50 109.67 L346.00 109.67 L346.50 109.67 L347.00 109.67 L347.50 109.67 L348.00 109.67 L348.50 109.66 L349.00 109.66 L349.50 109.66 L350.00 109.66 L350.50 109.66 L351.00 109.66 L351.50 109.65 L352.00 109.65 L352.50 109.65 L353.00 109.65 L353.50 109.65 L354.00 109.65 L354.50 109.64 L355.00 109.64 L355.50 109.64 L356.00 109.64 L356.50 109.64 L357.00 109.63 L357.50 109.63 L358.00 109.63 L358.50 109.63 L359.00 109.62 L359.50 109.62 L360.00 109.62 L360.50 109.62 L361.00 109.61 L361.50 109.61 L362.00 109.61 L362.50 109.61 L363.00 109.60 L363.50 109.60 L364.00 109.60 L364.50 109.60 L365.00 109.59 L365.50 109.59 L366.00 109.59 L366.50 109.58 L367.00 109.58 L367.50 109.58 L368.00 109.57 L368.50 109.57 L369.00 109.57 L369.50 109.57 L370.00 109.56 L370.50 109.56 L371.00 109.56 L371.50 109.55 L372.00 109.55 L372.50 109.55 L373.00 109.54 L373.50 109.54 L374.00 109.53 L374.50 109.53 L375.00 109.53 L375.50 109.52 L376.00 109.52 L376.50 109.52 L377.00 109.51 L377.50 109.51 L378.00 109.51 L378.50 109.50 L379.00 109.50 L379.50 109.49 L380.00 109.49 L380.50 109.49 L381.00 109.48 L381.50 109.48 L382.00 109.47 L382.50 109.47 L383.00 109.47 L383.50 109.46 L384.00 109.46 L384.50 109.45 L385.00 109.45 L385.50 109.44 L386.00 109.44 L386.50 109.44 L387.00 109.43 L387.50 109.43 L388.00 109.42 L388.50 109.42 L389.00 109.41 L389.50 109.41 L390.00 109.40 L390.50 109.40 L391.00 109.39 L391.50 109.39 L392.00 109.39 L392.50 109.38 L393.00 109.38 L393.50 109.37 L394.00 109.37 L394.50 109.36 L395.00 109.36 L395.50 109.35 L396.00 109.35 L396.50 109.34 L397.00 109.34 L397.50 109.33 L398.00 109.33 L398.50 109.32 L399.00 109.32 L399.50 109.31 L400.00 109.30 L400.50 109.30 L401.00 109.29 L401.50 109.29 L402.00 109.28 L402.50 109.28 L403.00 109.27 L403.50 109.27 L404.00 109.26 L404.50 109.26 L405.00 109.25 L405.50 109.25 L406.00 109.24 L406.50 109.23 L407.00 109.23 L407.50 109.22 L408.00 109.22 L408.50 109.21 L409.00 109.21 L409.50 109.20 L410.00 109.19 L410.50 109.19 L411.00 109.18 L411.50 109.18 L412.00 109.17 L412.50 109.16 L413.00 109.16 L413.50 109.15 L414.00 109.15 L414.50 109.14 L415.00 109.13 L415.50 109.13 L416.00 109.12 L416.50 109.12 L417.00 109.11 L417.50 109.10 L418.00 109.10 L418.50 109.09 L419.00 109.08 L419.50 109.08 L420.00 109.07 L420.50 109.07 L421.00 109.06 L421.50 109.05 L422.00 109.05 L422.50 109.04 L423.00 109.03 L423.50 109.03 L424.00 109.02 L424.50 109.01 L425.00 109.01 L425.50 109.00 L426.00 108.99 L426.50 108.99 L427.00 108.98 L427.50 108.97 L428.00 108.97 L428.50 108.96 L429.00 108.95 L429.50 108.95 L430.00 108.94 L430.50 108.93 L431.00 108.93 L431.50 108.92 L432.00 108.91 L432.50 108.91 L433.00 108.90 L433.50 108.89 L434.00 108.88 L434.50 108.88 L435.00 108.87 L435.50 108.86 L436.00 108.86 L436.50 108.85 L437.00 108.84 L437.50 108.84 L438.00 108.83 L438.50 108.82 L439.00 108.81 L439.50 108.81 L440.00 108.80 L440.50 108.79 L441.00 108.78 L441.50 108.78 L442.00 108.77 L442.50 108.76 L443.00 108.76 L443.50 108.75 L444.00 108.74 L444.50 108.73 L445.00 108.73 L445.50 108.72 L446.00 108.71 L446.50 108.70 L447.00 108.70 L447.50 108.69 L448.00 108.68 L448.50 108.67 L449.00 108.67 L449.50 108.66 L450.00 108.65 L450.50 108.64 L451.00 108.63 L451.50 108.63 L452.00 108.62 L452.50 108.61 L453.00 108.60 L453.50 108.60 L454.00 108.59 L454.50 108.58 L455.00 108.57 L455.50 108.57 L456.00 108.56 L456.50 108.55 L457.00 108.54 L457.50 108.53 L458.00 108.53 L458.50 108.52 L459.00 108.51 L459.50 108.50 L460.00 108.49 L460.50 108.49 L461.00 108.48 L461.50 108.47 L462.00 108.46 L462.50 108.45 L463.00 108.45 L463.50 108.44 L464.00 108.43 L464.50 108.42 L465.00 108.41 L465.50 108.41 L466.00 108.40 L466.50 108.39 L467.00 108.38 L467.50 108.37 L468.00 108.37 L468.50 108.36 L469.00 108.35 L469.50 108.34 L470.00 108.33 L470.50 108.32 L471.00 108.32 L471.50 108.31 L472.00 108.30 L472.50 108.29 L473.00 108.28 L473.50 108.27 L474.00 108.27 L474.50 108.26 L475.00 108.25 L475.50 108.24 L476.00 108.23 L476.50 108.22 L477.00 108.22 L477.50 108.21 L478.00 108.20 L478.50 108.19 L479.00 108.18 L479.50 108.17 L480.00 108.17 L480.50 108.16 L481.00 108.15 L481.50 108.14 L482.00 108.13 L482.50 108.12 L483.00 108.11 L483.50 108.11 L484.00 108.10 L484.50 108.09 L485.00 108.08 L485.50 108.07 L486.00 108.06 L486.50 108.06 L487.00 108.05 L487.50 108.04 L488.00 108.03 L488.50 108.02 L489.00 108.01 L489.50 108.00 L490.00 108.00 L490.50 107.99 L491.00 107.98 L491.50 107.97 L492.00 107.96 L492.50 107.95 L493.00 107.94 L493.50 107.93 L494.00 107.93 L494.50 107.92 L495.00 107.91 L495.50 107.90 L496.00 107.89 L496.50 107.88 L497.00 107.87 L497.50 107.86 L498.00 107.86 L498.50 107.85 L499.00 107.84 L499.50 107.83 L500.00 107.82 L500.50 107.81 L501.00 107.80 L501.50 107.79 L502.00 107.78 L502.50 107.78 L503.00 107.77 L503.50 107.76 L504.00 107.75 L504.50 107.74 L505.00 107.73 L505.50 107.72 L506.00 107.71 L506.50 107.70 L507.00 107.69 L507.50 107.68 L508.00 107.67 L508.50 107.66 L509.00 107.65 L509.50 107.64 L510.00 107.63 L510.50 107.62 L511.00 107.61 L511.50 107.60 L512.00 107.59 L512.50 107.58 L513.00 107.57 L513.50 107.56 L514.00 107.55 L514.50 107.54 L515.00 107.53 L515.50 107.52 L516.00 107.51 L516.50 107.50 L517.00 107.48 L517.50 107.47 L518.00 107.46 L518.50 107.45 L519.00 107.44 L519.50 107.43 L520.00 107.41 L520.50 107.40 L521.00 107.39 L521.50 107.38 L522.00 107.37 L522.50 107.35 L523.00 107.34 L523.50 107.33 L524.00 107.31 L524.50 107.30 L525.00 107.29 L525.50 107.28 L526.00 107.26 L526.50 107.25 L527.00 107.23 L527.50 107.22 L528.00 107.21 L528.50 107.19 L529.00 107.18 L529.50 107.16 L530.00 107.15 L530.50 107.13 L531.00 107.12 L531.50 107.10 L532.00 107.09 L532.50 107.07 L533.00 107.06 L533.50 107.04 L534.00 107.02 L534.50 107.01 L535.00 106.99 L535.50 106.97 L536.00 106.96 L536.50 106.94 L537.00 106.92 L537.50 106.90 L538.00 106.89 L538.50 106.87 L539.00 106.85 L539.50 106.83 L540.00 106.81 L540.50 106.80 L541.00 106.78 L541.50 106.76 L542.00 106.74 L542.50 106.72 L543.00 106.70 L543.50 106.68 L544.00 106.66 L544.50 106.64 L545.00 106.62 L545.50 106.60 L546.00 106.58 L546.50 106.55 L547.00 106.53 L547.50 106.51 L548.00 106.49 L548.50 106.47 L549.00 106.44 L549.50 106.42 L550.00 106.40 L550.50 106.37 L551.00 106.35 L551.50 106.33 L552.00 106.30 L552.50 106.28 L553.00 106.25 L553.50 106.23 L554.00 106.20 L554.50 106.18 L555.00 106.15 L555.50 106.12 L556.00 106.10 L556.50 106.07 L557.00 106.05 L557.50 106.02 L558.00 105.99 L558.50 105.96 L559.00 105.93 L559.50 105.91 L560.00 105.88 L560.50 105.85 L561.00 105.82 L561.50 105.79 L562.00 105.76 L562.50 105.73 L563.00 105.70 L563.50 105.67 L564.00 105.64 L564.50 105.61 L565.00 105.57 L565.50 105.54 L566.00 105.51 L566.50 105.48 L567.00 105.44 L567.50 105.41 L568.00 105.38 L568.50 105.34 L569.00 105.31 L569.50 105.27 L570.00 105.24 L570.50 105.20 L571.00 105.17 L571.50 105.13 L572.00 105.09 L572.50 105.06 L573.00 105.02 L573.50 104.98 L574.00 104.95 L574.50 104.91 L575.00 104.87 L575.50 104.83 L576.00 104.79 L576.50 104.75 L577.00 104.71 L577.50 104.67 L578.00 104.63 L578.50 104.59 L579.00 104.55 L579.50 104.50 L580.00 104.46 L580.50 104.42 L581.00 104.38 L581.50 104.33 L582.00 104.29 L582.50 104.24 L583.00 104.20 L583.50 104.15 L584.00 104.11 L584.50 104.06 L585.00 104.02 L585.50 103.97 L586.00 103.92 L586.50 103.87 L587.00 103.83 L587.50 103.78 L588.00 103.73 L588.50 103.68 L589.00 103.63 L589.50 103.58 L590.00 103.53 L590.50 103.48 L591.00 103.43 L591.50 103.38 L592.00 103.32 L592.50 103.27 L593.00 103.22 L593.50 103.16 L594.00 103.11 L594.50 103.05 L595.00 103.00 L595.50 102.94 L596.00 102.89 L596.50 102.83 L597.00 102.78 L597.50 102.72 L598.00 102.66 L598.50 102.60 L599.00 102.54 L599.50 102.48 L600.00 102.42 L600.50 102.36 L601.00 102.30 L601.50 102.24 L602.00 102.18 L602.50 102.12 L603.00 102.06 L603.50 101.99 L604.00 101.93 L604.50 101.87 L605.00 101.80 L605.50 101.74 L606.00 101.67 L606.50 101.61 L607.00 101.54 L607.50 101.47 L608.00 101.40 L608.50 101.34 L609.00 101.27 L609.50 101.20 L610.00 101.13 L610.50 101.06 L611.00 100.99 L611.50 100.92 L612.00 100.85 L612.50 100.77 L613.00 100.70 L613.50 100.63 L614.00 100.55 L614.50 100.48 L615.00 100.40 L615.50 100.33 L616.00 100.25 L616.50 100.18 L617.00 100.10 L617.50 100.02 L618.00 99.94 L618.50 99.86 L619.00 99.78 L619.50 99.70 L620.00 99.62 L620.50 99.54 L621.00 99.46 L621.50 99.38 L622.00 99.30 L622.50 99.21 L623.00 99.13 L623.50 99.04 L624.00 98.96 L624.50 98.87 L625.00 98.78 L625.50 98.70 L626.00 98.61 L626.50 98.52 L627.00 98.43 L627.50 98.34 L628.00 98.25 L628.50 98.16 L629.00 98.07 L629.50 97.98 L630.00 97.88 L630.50 97.79 L631.00 97.69 L631.50 97.60 L632.00 97.50 L632.50 97.41 L633.00 97.31 L633.50 97.21 L634.00 97.11 L634.50 97.01 L635.00 96.91 L635.50 96.81 L636.00 96.71 L636.50 96.61 L637.00 96.50 L637.50 96.40 L638.00 96.30 L638.50 96.19 L639.00 96.08 L639.50 95.98 L640.00 95.87 L640.50 95.76 L641.00 95.65 L641.50 95.54 L642.00 95.43 L642.50 95.32 L643.00 95.21 L643.50 95.09 L644.00 94.98 L644.50 94.87 L645.00 94.75 L645.50 94.63 L646.00 94.52 L646.50 94.40 L647.00 94.28 L647.50 94.16 L648.00 94.04 L648.50 93.92 L649.00 93.80 L649.50 93.67 L650.00 93.55 L650.50 93.43 L651.00 93.30 L651.50 93.17 L652.00 93.05 L652.50 92.92 L653.00 92.79 L653.50 92.66 L654.00 92.53 L654.50 92.40 L655.00 92.26 L655.50 92.13 L656.00 92.00 L656.50 91.86 L657.00 91.73 L657.50 91.59 L658.00 91.45 L658.50 91.31 L659.00 91.17 L659.50 91.03 L660.00 90.89 L660.50 90.75 L661.00 90.60 L661.50 90.46 L662.00 90.31 L662.50 90.17 L663.00 90.02 L663.50 89.87 L664.00 89.72 L664.50 89.57 L665.00 89.42 L665.50 89.27 L666.00 89.11 L666.50 88.96 L667.00 88.80 L667.50 88.65 L668.00 88.49 L668.50 88.33 L669.00 88.17 L669.50 88.01 L670.00 87.85 L670.50 87.69 L671.00 87.52 L671.50 87.36 L672.00 87.19 L672.50 87.03 L673.00 86.86 L673.50 86.69 L674.00 86.52 L674.50 86.35 L675.00 86.18 L675.50 86.00 L676.00 85.83 L676.50 85.65 L677.00 85.48 L677.50 85.30 L678.00 85.12 L678.50 84.94 L679.00 84.76 L679.50 84.58 L680.00 84.40 L680.50 84.21 L681.00 84.03 L681.50 83.84 L682.00 83.65 L682.50 83.46 L683.00 83.27 L683.50 83.08 L684.00 82.89 L684.50 82.70 L685.00 82.50 L685.50 82.31 L686.00 82.11 L686.50 81.91 L687.00 81.71 L687.50 81.51 L688.00 81.31 L688.50 81.11 L689.00 80.91 L689.50 80.70 L690.00 80.50 L690.50 80.29 L691.00 80.08 L691.50 79.87 L692.00 79.66 L692.50 79.45 L693.00 79.23 L693.50 79.02 L694.00 78.80 L694.50 78.58 L695.00 78.36 L695.50 78.15 L696.00 77.92 L696.50 77.70 L697.00 77.48 L697.50 77.25 L698.00 77.03 L698.50 76.80 L699.00 76.57 L699.50 76.34 L700.00 76.10 L700.50 75.87 L701.00 75.63 L701.50 75.39 L702.00 75.15 L702.50 74.91 L703.00 74.67 L703.50 74.42 L704.00 74.17 L704.50 73.92 L705.00 73.67 L705.50 73.41 L706.00 73.16 L706.50 72.90 L707.00 72.64 L707.50 72.37 L708.00 72.11 L708.50 71.84 L709.00 71.57 L709.50 71.29 L710.00 71.02 L710.50 70.74 L711.00 70.46 L711.50 70.17 L712.00 69.89 L712.50 69.60 L713.00 69.30 L713.50 69.01 L714.00 68.71 L714.50 68.41 L715.00 68.10 L715.50 67.79 L716.00 67.48 L716.50 67.17 L717.00 66.85 L717.50 66.53 L718.00 66.21 L718.50 65.88 L719.00 65.55 L719.50 65.21 L720.00 64.87 L720.50 64.53 L721.00 64.19 L721.50 63.84 L722.00 63.49 L722.50 63.13 L723.00 62.77 L723.50 62.40 L724.00 62.04 L724.50 61.66 L725.00 61.29 L725.50 60.91 L726.00 60.52 L726.50 60.14 L727.00 59.74 L727.50 59.35 L728.00 58.95 L728.50 58.54 L729.00 58.13 L729.50 57.72 L730.00 57.30 L730.50 56.87 L731.00 56.45 L731.50 56.01 L732.00 55.58 L732.50 55.14 L733.00 54.69 L733.50 54.24 L734.00 53.78 L734.50 53.32 L735.00 52.85 L735.50 52.38 L736.00 51.91 L736.50 51.43 L737.00 50.94 L737.50 50.45 L738.00 49.95 L738.50 49.45 L739.00 48.94 L739.50 48.43 L740.00 47.92 L740.50 47.40 L741.00 46.87 L741.50 46.35 L742.00 45.82 L742.50 45.29 L743.00 44.76 L743.50 44.23 L744.00 43.69 L744.50 43.16 L745.00 42.63 L745.50 42.10 L746.00 41.57 L746.50 41.04 L747.00 40.52 L747.50 40.00 L748.00 39.48 L748.50 38.97 L749.00 38.46 L749.50 37.95 L750.00 37.45 L750.50 36.96 L751.00 36.47 L751.50 35.99 L752.00 35.52 L752.50 35.05 L753.00 34.60 L753.50 34.15 L754.00 33.71 L754.50 33.28 L755.00 32.86 L755.50 32.45 L756.00 32.06 L756.50 31.68 L757.00 31.31 L757.50 30.96 L758.00 30.64 L758.50 30.33 L759.00 30.06 L759.50 29.81 L760.00 29.58 L760.50 29.40 L761.00 29.24 L761.50 29.12 L762.00 29.04 L762.50 29.00 L763.00 29.00 L763.50 29.05 L764.00 29.14 L764.50 29.29 L765.00 29.48 L765.50 29.73 L766.00 30.04 L766.50 30.40 L767.00 30.82 L767.50 31.29 L768.00 31.81 L768.50 32.36 L769.00 32.95 L769.50 33.57 L770.00 34.22 L770.50 34.89 L771.00 35.57 L771.50 36.27 L772.00 36.97 L772.50 37.68 L773.00 38.38 L773.50 39.09 L774.00 39.79 L774.50 40.48 L775.00 41.17 L775.50 41.85 L776.00 42.53 L776.50 43.19 L777.00 43.84 L777.50 44.48 L778.00 45.10 L778.50 45.71 L779.00 46.31 L779.50 46.88 L780.00 47.44 L780.50 47.97 L781.00 48.48 L781.50 48.97 L782.00 49.43 L782.50 49.87 L783.00 50.28 L783.50 50.66 L784.00 51.01 L784.50 51.33 L785.00 51.62 L785.50 51.87 L786.00 52.09 L786.50 52.27 L787.00 52.42 L787.50 52.53 L788.00 52.62 L788.50 52.67 L789.00 52.70 L789.50 52.69 L790.00 52.66 L790.50 52.60 L791.00 52.51 L791.50 52.40 L792.00 52.26 L792.50 52.10 L793.00 51.92 L793.50 51.72 L794.00 51.49 L794.50 51.24 L795.00 50.98 L795.50 50.70 L796.00 50.40 L796.50 50.08 L797.00 49.75 L797.50 49.40 L798.00 49.04 L798.50 48.67 L799.00 48.28 L799.50 47.89 L800.00 47.48 L800.50 47.06 L801.00 46.64 L801.50 46.21 L802.00 45.77 L802.50 45.33 L803.00 44.88 L803.50 44.42 L804.00 43.97 L804.50 43.51 L805.00 43.04 L805.50 42.58 L806.00 42.10 L806.50 41.63 L807.00 41.14 L807.50 40.65 L808.00 40.16 L808.50 39.66 L809.00 39.15 L809.50 38.63 L810.00 38.11 L810.50 37.57 L811.00 37.03 L811.50 36.48 L812.00 35.92 L812.50 35.35 L813.00 34.77 L813.50 34.17 L814.00 33.57 L814.50 32.96 L815.00 32.33 L815.50 31.69 L816.00 31.04 L816.50 30.37 L816.70 30.10" stroke="#bf7fbf" stroke-width="2.90" stroke-dasharray="10.9 4.78" stroke-dashoffset="12.46"/>
<path d="M117.00 90.91 L118.00 91.63 L119.00 92.34 L120.00 93.06 L121.00 93.77 L122.00 94.48 L123.00 95.19 L124.00 95.90 L125.00 96.60 L126.00 97.31 L127.00 98.01 L128.00 98.71 L129.00 99.40 L130.00 100.10 L131.00 100.79 L132.00 101.48 L133.00 102.17 L134.00 102.85 L135.00 103.53 L136.00 104.21 L137.00 104.89 L138.00 105.56 L139.00 106.23 L140.00 106.90 L141.00 107.57 L142.00 108.23 L143.00 108.89 L144.00 109.55 L145.00 110.20 L146.00 110.85 L147.00 111.50 L148.00 112.14 L149.00 112.78 L150.00 113.42 L151.00 114.05 L152.00 114.68 L153.00 115.31 L154.00 115.93 L155.00 116.55 L156.00 117.16 L157.00 117.77 L158.00 118.38 L159.00 118.98 L160.00 119.58 L161.00 120.18 L162.00 120.77 L163.00 121.35 L164.00 121.94 L165.00 122.52 L166.00 123.09 L167.00 123.66 L168.00 124.22 L169.00 124.78 L170.00 125.34 L171.00 125.89 L172.00 126.44 L173.00 126.98 L174.00 127.52 L175.00 128.05 L176.00 128.58 L177.00 129.10 L178.00 129.62 L179.00 130.13 L180.00 130.64 L181.00 131.14 L182.00 131.63 L183.00 132.13 L184.00 132.61 L185.00 133.09 L186.00 133.57 L187.00 134.04 L188.00 134.50 L189.00 134.96 L190.00 135.41 L191.00 135.86 L192.00 136.30 L193.00 136.73 L194.00 137.16 L195.00 137.58 L196.00 138.00 L197.00 138.41 L198.00 138.82 L199.00 139.21 L200.00 139.61 L201.00 139.99 L202.00 140.37 L203.00 140.74 L204.00 141.11 L205.00 141.47 L206.00 141.82 L207.00 142.17 L208.00 142.51 L209.00 142.85 L210.00 143.18 L211.00 143.50 L212.00 143.82 L213.00 144.13 L214.00 144.44 L215.00 144.74 L216.00 145.03 L217.00 145.32 L218.00 145.61 L219.00 145.88 L220.00 146.16 L221.00 146.42 L222.00 146.69 L223.00 146.94 L224.00 147.19 L225.00 147.44 L226.00 147.68 L227.00 147.92 L228.00 148.15 L229.00 148.38 L230.00 148.60 L231.00 148.82 L232.00 149.03 L233.00 149.24 L234.00 149.45 L235.00 149.65 L236.00 149.84 L237.00 150.03 L238.00 150.22 L239.00 150.40 L240.00 150.58 L241.00 150.75 L242.00 150.92 L243.00 151.09 L244.00 151.25 L245.00 151.41 L246.00 151.57 L247.00 151.72 L248.00 151.86 L249.00 152.01 L250.00 152.15 L251.00 152.29 L252.00 152.42 L253.00 152.55 L254.00 152.68 L255.00 152.80 L256.00 152.92 L257.00 153.04 L258.00 153.16 L259.00 153.27 L260.00 153.38 L261.00 153.48 L262.00 153.59 L263.00 153.69 L264.00 153.78 L265.00 153.88 L266.00 153.97 L267.00 154.06 L268.00 154.15 L269.00 154.24 L270.00 154.32 L271.00 154.40 L272.00 154.48 L273.00 154.56 L274.00 154.64 L275.00 154.71 L276.00 154.78 L277.00 154.85 L278.00 154.92 L279.00 154.98 L280.00 155.05 L281.00 155.11 L282.00 155.17 L283.00 155.23 L284.00 155.29 L285.00 155.35 L286.00 155.41 L287.00 155.46 L288.00 155.52 L289.00 155.57 L290.00 155.62 L291.00 155.67 L292.00 155.72 L293.00 155.77 L294.00 155.82 L295.00 155.87 L296.00 155.91 L297.00 155.96 L298.00 156.01 L299.00 156.05 L300.00 156.10 L301.00 156.14 L302.00 156.18 L303.00 156.23 L304.00 156.27 L305.00 156.31 L306.00 156.35 L307.00 156.39 L308.00 156.44 L309.00 156.47 L310.00 156.51 L311.00 156.55 L312.00 156.59 L313.00 156.63 L314.00 156.66 L315.00 156.70 L316.00 156.74 L317.00 156.77 L318.00 156.81 L319.00 156.84 L320.00 156.87 L321.00 156.91 L322.00 156.94 L323.00 156.97 L324.00 157.00 L325.00 157.03 L326.00 157.06 L327.00 157.09 L328.00 157.12 L329.00 157.15 L330.00 157.18 L331.00 157.20 L332.00 157.23 L333.00 157.26 L334.00 157.28 L335.00 157.31 L336.00 157.33 L337.00 157.36 L338.00 157.38 L339.00 157.40 L340.00 157.43 L341.00 157.45 L342.00 157.47 L343.00 157.49 L344.00 157.51 L345.00 157.53 L346.00 157.55 L347.00 157.57 L348.00 157.59 L349.00 157.60 L350.00 157.62 L351.00 157.64 L352.00 157.65 L353.00 157.67 L354.00 157.68 L355.00 157.70 L356.00 157.71 L357.00 157.72 L358.00 157.74 L359.00 157.75 L360.00 157.76 L361.00 157.77 L362.00 157.78 L363.00 157.79 L364.00 157.80 L365.00 157.81 L366.00 157.82 L367.00 157.83 L368.00 157.84 L369.00 157.84 L370.00 157.85 L371.00 157.86 L372.00 157.86 L373.00 157.87 L374.00 157.87 L375.00 157.88 L376.00 157.88 L377.00 157.88 L378.00 157.89 L379.00 157.89 L380.00 157.89 L381.00 157.89 L382.00 157.89 L383.00 157.89 L384.00 157.89 L385.00 157.89 L386.00 157.89 L387.00 157.89 L388.00 157.88 L389.00 157.88 L390.00 157.88 L391.00 157.87 L392.00 157.87 L393.00 157.86 L394.00 157.86 L395.00 157.85 L396.00 157.85 L397.00 157.84 L398.00 157.83 L399.00 157.83 L400.00 157.82 L401.00 157.81 L402.00 157.80 L403.00 157.79 L404.00 157.78 L405.00 157.77 L406.00 157.76 L407.00 157.75 L408.00 157.74 L409.00 157.72 L410.00 157.71 L411.00 157.70 L412.00 157.68 L413.00 157.67 L414.00 157.65 L415.00 157.64 L416.00 157.62 L417.00 157.61 L418.00 157.59 L419.00 157.57 L420.00 157.56 L421.00 157.54 L422.00 157.52 L423.00 157.50 L424.00 157.48 L425.00 157.46 L426.00 157.44 L427.00 157.42 L428.00 157.40 L429.00 157.38 L430.00 157.36 L431.00 157.33 L432.00 157.31 L433.00 157.29 L434.00 157.26 L435.00 157.24 L436.00 157.21 L437.00 157.19 L438.00 157.16 L439.00 157.14 L440.00 157.11 L441.00 157.08 L442.00 157.06 L443.00 157.03 L444.00 157.00 L445.00 156.97 L446.00 156.94 L447.00 156.91 L448.00 156.88 L449.00 156.85 L450.00 156.82 L451.00 156.79 L452.00 156.76 L453.00 156.73 L454.00 156.70 L455.00 156.66 L456.00 156.63 L457.00 156.60 L458.00 156.56 L459.00 156.53 L460.00 156.49 L461.00 156.46 L462.00 156.42 L463.00 156.39 L464.00 156.35 L465.00 156.31 L466.00 156.27 L467.00 156.24 L468.00 156.20 L469.00 156.16 L470.00 156.12 L471.00 156.08 L472.00 156.04 L473.00 156.00 L474.00 155.96 L475.00 155.92 L476.00 155.88 L477.00 155.84 L478.00 155.79 L479.00 155.75 L480.00 155.71 L481.00 155.66 L482.00 155.62 L483.00 155.58 L484.00 155.53 L485.00 155.48 L486.00 155.44 L487.00 155.39 L488.00 155.34 L489.00 155.30 L490.00 155.25 L491.00 155.20 L492.00 155.15 L493.00 155.10 L494.00 155.05 L495.00 154.99 L496.00 154.94 L497.00 154.89 L498.00 154.83 L499.00 154.78 L500.00 154.72 L501.00 154.66 L502.00 154.61 L503.00 154.55 L504.00 154.49 L505.00 154.43 L506.00 154.37 L507.00 154.31 L508.00 154.24 L509.00 154.18 L510.00 154.11 L511.00 154.05 L512.00 153.98 L513.00 153.91 L514.00 153.84 L515.00 153.77 L516.00 153.70 L517.00 153.63 L518.00 153.56 L519.00 153.48 L520.00 153.41 L521.00 153.33 L522.00 153.25 L523.00 153.17 L524.00 153.09 L525.00 153.01 L526.00 152.93 L527.00 152.84 L528.00 152.76 L529.00 152.67 L530.00 152.58 L531.00 152.49 L532.00 152.40 L533.00 152.31 L534.00 152.22 L535.00 152.12 L536.00 152.03 L537.00 151.93 L538.00 151.83 L539.00 151.73 L540.00 151.63 L541.00 151.53 L542.00 151.42 L543.00 151.31 L544.00 151.21 L545.00 151.10 L546.00 150.99 L547.00 150.87 L548.00 150.76 L549.00 150.64 L550.00 150.53 L551.00 150.41 L552.00 150.29 L553.00 150.16 L554.00 150.04 L555.00 149.91 L556.00 149.78 L557.00 149.66 L558.00 149.52 L559.00 149.39 L560.00 149.26 L561.00 149.12 L562.00 148.98 L563.00 148.84 L564.00 148.70 L565.00 148.55 L566.00 148.41 L567.00 148.26 L568.00 148.11 L569.00 147.96 L570.00 147.80 L571.00 147.65 L572.00 147.49 L573.00 147.33 L574.00 147.17 L575.00 147.00 L576.00 146.84 L577.00 146.67 L578.00 146.50 L579.00 146.33 L580.00 146.15 L581.00 145.97 L582.00 145.80 L583.00 145.61 L584.00 145.43 L585.00 145.25 L586.00 145.06 L587.00 144.87 L588.00 144.68 L589.00 144.48 L590.00 144.29 L591.00 144.09 L592.00 143.89 L593.00 143.69 L594.00 143.48 L595.00 143.28 L596.00 143.07 L597.00 142.86 L598.00 142.64 L599.00 142.43 L600.00 142.21 L601.00 141.99 L602.00 141.77 L603.00 141.55 L604.00 141.32 L605.00 141.10 L606.00 140.87 L607.00 140.63 L608.00 140.40 L609.00 140.16 L610.00 139.93 L611.00 139.69 L612.00 139.44 L613.00 139.20 L614.00 138.95 L615.00 138.71 L616.00 138.46 L617.00 138.20 L618.00 137.95 L619.00 137.69 L620.00 137.43 L621.00 137.17 L622.00 136.91 L623.00 136.64 L624.00 136.38 L625.00 136.11 L626.00 135.84 L627.00 135.56 L628.00 135.29 L629.00 135.01 L630.00 134.73 L631.00 134.45 L632.00 134.17 L633.00 133.88 L634.00 133.59 L635.00 133.30 L636.00 133.01 L637.00 132.72 L638.00 132.42 L639.00 132.12 L640.00 131.82 L641.00 131.52 L642.00 131.22 L643.00 130.91 L644.00 130.60 L645.00 130.29 L646.00 129.98 L647.00 129.67 L648.00 129.35 L649.00 129.03 L650.00 128.71 L651.00 128.39 L652.00 128.07 L653.00 127.74 L654.00 127.41 L655.00 127.08 L656.00 126.75 L657.00 126.41 L658.00 126.08 L659.00 125.74 L660.00 125.40 L661.00 125.06 L662.00 124.71 L663.00 124.37 L664.00 124.02 L665.00 123.67 L666.00 123.31 L667.00 122.96 L668.00 122.60 L669.00 122.24 L670.00 121.88 L671.00 121.52 L672.00 121.16 L673.00 120.79 L674.00 120.42 L675.00 120.05 L676.00 119.68 L677.00 119.30 L678.00 118.93 L679.00 118.55 L680.00 118.17 L681.00 117.79 L682.00 117.40 L683.00 117.01 L684.00 116.63 L685.00 116.24 L686.00 115.84 L687.00 115.45 L688.00 115.05 L689.00 114.65 L690.00 114.25 L691.00 113.84 L692.00 113.44 L693.00 113.02 L694.00 112.61 L695.00 112.19 L696.00 111.76 L697.00 111.33 L698.00 110.90 L699.00 110.46 L700.00 110.02 L701.00 109.57 L702.00 109.12 L703.00 108.66 L704.00 108.20 L705.00 107.73 L706.00 107.25 L707.00 106.77 L708.00 106.28 L709.00 105.78 L710.00 105.28 L711.00 104.76 L712.00 104.24 L713.00 103.72 L714.00 103.18 L715.00 102.64 L716.00 102.09 L717.00 101.53 L718.00 100.96 L719.00 100.38 L720.00 99.80 L721.00 99.20 L722.00 98.59 L723.00 97.98 L724.00 97.35 L725.00 96.72 L726.00 96.07 L727.00 95.41 L728.00 94.74 L729.00 94.06 L730.00 93.37 L731.00 92.67 L732.00 91.96 L733.00 91.23 L734.00 90.49 L735.00 89.74 L736.00 88.97 L737.00 88.20 L738.00 87.41 L739.00 86.61 L740.00 85.81 L741.00 85.01 L742.00 84.22 L743.00 83.44 L744.00 82.67 L745.00 81.93 L746.00 81.21 L747.00 80.52 L748.00 79.87 L749.00 79.25 L750.00 78.69 L751.00 78.17 L752.00 77.71 L753.00 77.30 L754.00 76.96 L755.00 76.69 L756.00 76.50 L757.00 76.39 L758.00 76.37 L759.00 76.44 L760.00 76.61 L761.00 76.89 L762.00 77.29 L763.00 77.80 L764.00 78.44 L765.00 79.20 L766.00 80.06 L767.00 80.99 L768.00 81.98 L769.00 83.00 L770.00 84.03 L771.00 85.05 L772.00 86.04 L773.00 86.97 L774.00 87.83 L775.00 88.59 L776.00 89.26 L777.00 89.83 L778.00 90.28 L779.00 90.61 L780.00 90.82 L781.00 90.90 L782.00 90.84 L783.00 90.67 L784.00 90.39 L785.00 90.01 L786.00 89.55 L787.00 89.02 L788.00 88.42 L789.00 87.77 L790.00 87.09 L791.00 86.38 L792.00 85.65 L793.00 84.91 L794.00 84.16 L795.00 83.40 L796.00 82.64 L797.00 81.87 L798.00 81.09 L799.00 80.31 L800.00 79.52 L801.00 78.74 L802.00 77.96 L803.00 77.17 L804.00 76.39 L805.00 75.62 L806.00 74.84 L807.00 74.08 L808.00 73.32 L809.00 72.58 L810.00 71.84 L811.00 71.11 L812.00 70.40 L813.00 69.70 L814.00 69.02 L815.00 68.35 L816.00 67.70 L816.30 67.51" stroke="#800080" stroke-width="2.90"/>
<path d="M139.60 -0.03 L140.60 2.21 L141.60 4.42 L142.60 6.62 L143.60 8.81 L144.60 10.97 L145.60 13.12 L146.60 15.25 L147.60 17.35 L148.60 19.44 L149.60 21.51 L150.60 23.57 L151.60 25.60 L152.60 27.61 L153.60 29.60 L154.60 31.57 L155.60 33.51 L156.60 35.44 L157.60 37.35 L158.60 39.23 L159.60 41.09 L160.60 42.93 L161.60 44.75 L162.60 46.54 L163.60 48.31 L164.60 50.06 L165.60 51.78 L166.60 53.48 L167.60 55.15 L168.60 56.80 L169.60 58.42 L170.60 60.02 L171.60 61.60 L172.60 63.14 L173.60 64.67 L174.60 66.16 L175.60 67.63 L176.60 69.07 L177.60 70.49 L178.60 71.88 L179.60 73.24 L180.60 74.57 L181.60 75.89 L182.60 77.17 L183.60 78.43 L184.60 79.67 L185.60 80.88 L186.60 82.07 L187.60 83.24 L188.60 84.38 L189.60 85.50 L190.60 86.60 L191.60 87.68 L192.60 88.73 L193.60 89.77 L194.60 90.78 L195.60 91.77 L196.60 92.74 L197.60 93.70 L198.60 94.63 L199.60 95.54 L200.60 96.44 L201.60 97.32 L202.60 98.17 L203.60 99.02 L204.60 99.84 L205.60 100.65 L206.60 101.44 L207.60 102.21 L208.60 102.97 L209.60 103.71 L210.60 104.44 L211.60 105.15 L212.60 105.85 L213.60 106.53 L214.60 107.20 L215.60 107.86 L216.60 108.50 L217.60 109.13 L218.60 109.75 L219.60 110.36 L220.60 110.95 L221.60 111.53 L222.60 112.10 L223.60 112.67 L224.60 113.22 L225.60 113.76 L226.60 114.29 L227.60 114.81 L228.60 115.32 L229.60 115.83 L230.60 116.33 L231.60 116.81 L232.60 117.29 L233.60 117.77 L234.60 118.23 L235.60 118.69 L236.60 119.13 L237.60 119.57 L238.60 120.01 L239.60 120.43 L240.60 120.85 L241.60 121.26 L242.60 121.67 L243.60 122.07 L244.60 122.46 L245.60 122.84 L246.60 123.22 L247.60 123.59 L248.60 123.95 L249.60 124.31 L250.60 124.66 L251.60 125.01 L252.60 125.35 L253.60 125.68 L254.60 126.01 L255.60 126.33 L256.60 126.64 L257.60 126.95 L258.60 127.26 L259.60 127.56 L260.60 127.85 L261.60 128.14 L262.60 128.43 L263.60 128.71 L264.60 128.98 L265.60 129.25 L266.60 129.52 L267.60 129.78 L268.60 130.03 L269.60 130.28 L270.60 130.53 L271.60 130.78 L272.60 131.02 L273.60 131.25 L274.60 131.48 L275.60 131.71 L276.60 131.94 L277.60 132.16 L278.60 132.37 L279.60 132.59 L280.60 132.80 L281.60 133.01 L282.60 133.21 L283.60 133.42 L284.60 133.62 L285.60 133.81 L286.60 134.01 L287.60 134.20 L288.60 134.39 L289.60 134.58 L290.60 134.76 L291.60 134.95 L292.60 135.13 L293.60 135.31 L294.60 135.49 L295.60 135.66 L296.60 135.84 L297.60 136.01 L298.60 136.18 L299.60 136.35 L300.60 136.52 L301.60 136.69 L302.60 136.86 L303.60 137.03 L304.60 137.19 L305.60 137.36 L306.60 137.52 L307.60 137.69 L308.60 137.85 L309.60 138.01 L310.60 138.18 L311.60 138.34 L312.60 138.50 L313.60 138.66 L314.60 138.82 L315.60 138.98 L316.60 139.14 L317.60 139.30 L318.60 139.45 L319.60 139.61 L320.60 139.77 L321.60 139.92 L322.60 140.08 L323.60 140.23 L324.60 140.38 L325.60 140.53 L326.60 140.68 L327.60 140.83 L328.60 140.98 L329.60 141.13 L330.60 141.27 L331.60 141.42 L332.60 141.56 L333.60 141.71 L334.60 141.85 L335.60 141.99 L336.60 142.13 L337.60 142.27 L338.60 142.41 L339.60 142.55 L340.60 142.68 L341.60 142.82 L342.60 142.95 L343.60 143.08 L344.60 143.22 L345.60 143.35 L346.60 143.47 L347.60 143.60 L348.60 143.73 L349.60 143.85 L350.60 143.98 L351.60 144.10 L352.60 144.22 L353.60 144.34 L354.60 144.46 L355.60 144.58 L356.60 144.69 L357.60 144.80 L358.60 144.92 L359.60 145.03 L360.60 145.14 L361.60 145.25 L362.60 145.35 L363.60 145.46 L364.60 145.56 L365.60 145.66 L366.60 145.76 L367.60 145.86 L368.60 145.96 L369.60 146.06 L370.60 146.15 L371.60 146.24 L372.60 146.33 L373.60 146.42 L374.60 146.51 L375.60 146.59 L376.60 146.68 L377.60 146.76 L378.60 146.84 L379.60 146.92 L380.60 147.00 L381.60 147.07 L382.60 147.14 L383.60 147.21 L384.60 147.28 L385.60 147.35 L386.60 147.42 L387.60 147.48 L388.60 147.54 L389.60 147.60 L390.60 147.66 L391.60 147.71 L392.60 147.77 L393.60 147.82 L394.60 147.87 L395.60 147.91 L396.60 147.96 L397.60 148.00 L398.60 148.04 L399.60 148.08 L400.60 148.12 L401.60 148.15 L402.60 148.18 L403.60 148.21 L404.60 148.24 L405.60 148.27 L406.60 148.29 L407.60 148.31 L408.60 148.33 L409.60 148.35 L410.60 148.36 L411.60 148.37 L412.60 148.38 L413.60 148.39 L414.60 148.39 L415.60 148.40 L416.60 148.40 L416.75 148.40 L417.10 30.00 L417.45 149.63 L417.60 149.64 L418.60 149.71 L419.60 149.77 L420.60 149.84 L421.60 149.90 L422.60 149.96 L423.60 150.02 L424.60 150.08 L425.60 150.14 L426.60 150.20 L427.60 150.25 L428.60 150.31 L429.60 150.37 L430.60 150.42 L431.60 150.48 L432.60 150.53 L433.60 150.59 L434.60 150.64 L435.60 150.69 L436.60 150.74 L437.60 150.80 L438.60 150.85 L439.60 150.90 L440.60 150.95 L441.60 151.00 L442.60 151.05 L443.60 151.10 L444.60 151.14 L445.60 151.19 L446.60 151.24 L447.60 151.29 L448.60 151.34 L449.60 151.38 L450.60 151.43 L451.60 151.48 L452.60 151.52 L453.60 151.57 L454.60 151.62 L455.60 151.66 L456.60 151.71 L457.60 151.76 L458.60 151.80 L459.60 151.85 L460.60 151.90 L461.60 151.94 L462.60 151.99 L463.60 152.03 L464.60 152.08 L465.60 152.13 L466.60 152.17 L467.60 152.22 L468.60 152.27 L469.60 152.32 L470.60 152.36 L471.60 152.41 L472.60 152.46 L473.60 152.51 L474.60 152.56 L475.60 152.60 L476.60 152.65 L477.60 152.70 L478.60 152.75 L479.60 152.80 L480.60 152.86 L481.60 152.91 L482.60 152.96 L483.60 153.01 L484.60 153.06 L484.85 153.08 L485.20 140.40 L485.55 153.11 L485.60 153.12 L486.60 153.17 L487.60 153.23 L488.60 153.28 L489.60 153.34 L490.60 153.39 L491.60 153.45 L492.60 153.51 L493.60 153.57 L494.60 153.63 L495.60 153.69 L496.60 153.75 L497.60 153.81 L498.60 153.87 L499.60 153.94 L500.60 154.00 L501.60 154.07 L502.60 154.13 L503.60 154.20 L504.60 154.27 L505.60 154.34 L506.60 154.41 L507.60 154.48 L508.60 154.55 L509.60 154.63 L510.60 154.70 L511.60 154.78 L512.60 154.85 L513.60 154.93 L514.60 155.01 L515.60 155.09 L516.60 155.17 L517.60 155.26 L518.60 155.34 L519.60 155.43 L520.60 155.51 L521.60 155.60 L522.60 155.69 L523.60 155.78 L524.55 155.87 L524.90 150.40 L525.25 155.94 L525.60 155.97 L526.60 156.06 L527.60 156.16 L528.60 156.26 L529.60 156.36 L530.60 156.46 L531.60 156.56 L532.60 156.66 L533.60 156.77 L534.60 156.87 L535.60 156.98 L536.60 157.08 L537.60 157.19 L538.60 157.30 L539.60 157.40 L540.60 157.51 L541.60 157.62 L542.60 157.73 L543.60 157.84 L544.60 157.96 L545.60 158.07 L546.60 158.18 L547.60 158.29 L548.60 158.40 L549.60 158.52 L550.60 158.63 L551.60 158.74 L552.60 158.85 L552.65 158.86 L553.00 157.90 L553.35 158.94 L553.60 158.96 L554.60 159.08 L555.60 159.19 L556.60 159.30 L557.60 159.41 L558.60 159.52 L559.60 159.63 L560.60 159.74 L561.60 159.85 L562.60 159.96 L563.60 160.07 L564.60 160.18 L565.60 160.28 L566.60 160.39 L567.60 160.49 L568.60 160.60 L569.60 160.70 L570.60 160.80 L571.60 160.90 L572.60 161.00 L573.60 161.10 L574.55 161.20 L574.90 158.50 L575.25 161.26 L575.60 161.30 L576.60 161.39 L577.60 161.48 L578.60 161.58 L579.60 161.67 L580.60 161.75 L581.60 161.84 L582.60 161.93 L583.60 162.01 L584.60 162.09 L585.60 162.17 L586.60 162.25 L587.60 162.32 L588.60 162.40 L589.60 162.47 L590.60 162.54 L591.60 162.61 L592.60 162.67 L592.65 162.67 L593.00 145.60 L593.35 162.72 L593.60 162.73 L594.60 162.80 L595.60 162.85 L596.60 162.91 L597.60 162.96 L598.60 163.02 L599.60 163.07 L600.60 163.11 L601.60 163.16 L602.60 163.20 L603.60 163.25 L604.60 163.28 L605.60 163.32 L606.60 163.36 L607.45 163.38 L607.80 163.70 L608.15 163.41 L608.60 163.42 L609.60 163.45 L610.60 163.47 L611.60 163.50 L612.60 163.52 L613.60 163.54 L614.60 163.56 L615.60 163.57 L616.60 163.58 L617.60 163.60 L618.60 163.60 L619.60 163.61 L620.60 163.61 L621.60 163.62 L622.60 163.62 L623.60 163.61 L624.60 163.61 L625.60 163.60 L626.60 163.59 L627.60 163.58 L628.60 163.57 L629.60 163.55 L630.60 163.53 L631.60 163.51 L632.60 163.49 L633.60 163.47 L634.60 163.44 L635.60 163.41 L636.60 163.38 L637.60 163.35 L638.60 163.31 L639.60 163.27 L640.60 163.23 L641.60 163.19 L642.55 163.15 L642.90 158.40 L643.25 163.12 L643.60 163.10 L644.60 163.05 L645.60 163.00 L646.60 162.94 L647.60 162.89 L648.60 162.83 L649.60 162.77 L650.60 162.71 L651.60 162.64 L652.60 162.57 L653.60 162.50 L654.60 162.43 L655.60 162.36 L656.60 162.28 L657.60 162.20 L658.60 162.12 L659.60 162.04 L660.60 161.95 L661.60 161.87 L662.60 161.78 L663.60 161.68 L664.60 161.59 L665.60 161.49 L666.60 161.39 L667.60 161.29 L668.25 161.22 L668.60 148.60 L668.95 161.15 L669.60 161.08 L670.60 160.97 L671.60 160.86 L672.60 160.75 L673.60 160.63 L674.60 160.52 L675.60 160.40 L676.60 160.27 L677.60 160.15 L678.60 160.02 L679.60 159.89 L680.60 159.76 L681.60 159.63 L682.60 159.49 L683.60 159.35 L684.60 159.21 L685.60 159.07 L686.60 158.92 L687.60 158.78 L688.60 158.63 L689.60 158.47 L690.60 158.32 L691.60 158.16 L692.60 158.00 L693.60 157.84 L694.60 157.68 L695.60 157.51 L696.60 157.34 L697.60 157.17 L698.60 157.00 L699.60 156.82 L700.60 156.64 L701.60 156.46 L702.60 156.28 L703.60 156.09 L704.60 155.90 L705.60 155.71 L706.60 155.52 L707.60 155.33 L708.60 155.13 L709.60 154.93 L710.60 154.73 L710.80 154.71 L711.60 154.32 L712.60 153.82 L713.60 153.30 L714.60 152.77 L715.60 152.23 L716.60 151.67 L717.60 151.10 L718.60 150.51 L719.60 149.91 L720.60 149.29 L721.60 148.65 L722.60 148.00 L723.60 147.34 L724.60 146.65 L725.60 145.95 L726.60 145.23 L727.60 144.48 L728.60 143.73 L729.60 142.95 L730.60 142.15 L731.60 141.33 L732.60 140.48 L733.60 139.62 L734.60 138.74 L735.60 137.83 L736.60 136.90 L737.60 135.95 L738.60 134.97 L739.60 133.97 L740.60 132.95 L741.60 131.90 L742.60 130.82 L743.60 129.72 L744.60 128.59 L745.60 127.44 L746.60 126.27 L747.60 125.08 L748.60 123.86 L749.60 122.63 L750.60 121.39 L751.60 120.15 L752.60 118.94 L753.60 117.75 L754.60 116.62 L755.60 115.55 L756.25 114.90 L756.60 112.60 L756.95 114.25 L757.60 113.69 L758.60 112.92 L759.60 112.28 L760.60 111.77 L761.60 111.39 L762.60 111.15 L763.60 111.06 L764.60 111.11 L765.60 111.31 L766.60 111.64 L767.60 112.11 L768.60 112.72 L769.60 113.44 L770.60 114.30 L771.60 115.27 L772.60 116.34 L773.60 117.50 L774.60 118.72 L775.60 119.99 L776.60 121.29 L777.60 122.60 L778.60 123.91 L779.60 125.19 L780.60 126.42 L781.60 127.59 L782.60 128.68 L783.60 129.67 L784.60 130.55 L785.60 131.34 L786.60 132.04 L787.60 132.64 L788.60 133.15 L789.60 133.58 L790.60 133.92 L791.60 134.18 L792.60 134.36 L793.60 134.47 L794.60 134.51 L795.60 134.47 L796.60 134.38 L797.60 134.22 L798.60 134.00 L799.60 133.72 L800.60 133.39 L801.60 133.01 L802.60 132.58 L803.60 132.10 L804.60 131.59 L805.60 131.03 L806.60 130.44 L807.60 129.81 L808.60 129.16 L809.60 128.48 L810.60 127.77 L811.60 127.05 L812.60 126.30 L813.60 125.55 L814.60 124.77 L815.60 123.99 L816.50 123.29" stroke="#ff6a0a" stroke-width="4.17"/>
</g>
<g clip-path="url(#c2)" fill="none" stroke-linejoin="round" stroke-linecap="butt">
<path d="M235.00 293.99 L236.00 294.56 L237.00 295.12 L238.00 295.68 L239.00 296.23 L240.00 296.78 L241.00 297.32 L242.00 297.86 L243.00 298.40 L244.00 298.93 L245.00 299.46 L246.00 299.98 L247.00 300.50 L248.00 301.02 L249.00 301.53 L250.00 302.04 L251.00 302.54 L252.00 303.04 L253.00 303.53 L254.00 304.03 L255.00 304.51 L256.00 305.00 L257.00 305.48 L258.00 305.96 L259.00 306.43 L260.00 306.90 L261.00 307.36 L262.00 307.82 L263.00 308.28 L264.00 308.73 L265.00 309.18 L266.00 309.63 L267.00 310.07 L268.00 310.51 L269.00 310.94 L270.00 311.38 L271.00 311.80 L272.00 312.23 L273.00 312.65 L274.00 313.07 L275.00 313.48 L276.00 313.89 L277.00 314.29 L278.00 314.70 L279.00 315.10 L280.00 315.49 L281.00 315.89 L282.00 316.27 L283.00 316.66 L284.00 317.04 L285.00 317.42 L286.00 317.80 L287.00 318.17 L288.00 318.54 L289.00 318.90 L290.00 319.27 L291.00 319.63 L292.00 319.98 L293.00 320.33 L294.00 320.68 L295.00 321.03 L296.00 321.37 L297.00 321.71 L298.00 322.05 L299.00 322.38 L300.00 322.71 L301.00 323.04 L302.00 323.37 L303.00 323.69 L304.00 324.01 L305.00 324.32 L306.00 324.63 L307.00 324.94 L308.00 325.25 L309.00 325.55 L310.00 325.85 L311.00 326.15 L312.00 326.45 L313.00 326.74 L314.00 327.03 L315.00 327.31 L316.00 327.60 L317.00 327.88 L318.00 328.16 L319.00 328.43 L320.00 328.71 L321.00 328.98 L322.00 329.24 L323.00 329.51 L324.00 329.77 L325.00 330.03 L326.00 330.28 L327.00 330.54 L328.00 330.79 L329.00 331.04 L330.00 331.29 L331.00 331.53 L332.00 331.77 L333.00 332.01 L334.00 332.25 L335.00 332.48 L336.00 332.71 L337.00 332.94 L338.00 333.17 L339.00 333.39 L340.00 333.61 L341.00 333.83 L342.00 334.05 L343.00 334.26 L344.00 334.48 L345.00 334.69 L346.00 334.90 L347.00 335.10 L348.00 335.31 L349.00 335.51 L350.00 335.71 L351.00 335.90 L352.00 336.10 L353.00 336.29 L354.00 336.48 L355.00 336.67 L356.00 336.86 L357.00 337.04 L358.00 337.22 L359.00 337.40 L360.00 337.58 L361.00 337.76 L362.00 337.93 L363.00 338.11 L364.00 338.28 L365.00 338.45 L366.00 338.61 L367.00 338.78 L368.00 338.94 L369.00 339.10 L370.00 339.26 L371.00 339.42 L372.00 339.58 L373.00 339.73 L374.00 339.88 L375.00 340.03 L376.00 340.18 L377.00 340.33 L378.00 340.48 L379.00 340.62 L380.00 340.76 L381.00 340.90 L382.00 341.04 L383.00 341.18 L384.00 341.32 L385.00 341.45 L386.00 341.58 L387.00 341.71 L388.00 341.84 L389.00 341.97 L390.00 342.10 L391.00 342.23 L392.00 342.35 L393.00 342.47 L394.00 342.60 L395.00 342.72 L396.00 342.83 L397.00 342.95 L398.00 343.07 L399.00 343.18 L400.00 343.30 L401.00 343.41 L402.00 343.52 L403.00 343.63 L404.00 343.74 L405.00 343.85 L406.00 343.95 L407.00 344.06 L408.00 344.16 L409.00 344.27 L410.00 344.37 L411.00 344.47 L412.00 344.57 L413.00 344.67 L414.00 344.76 L415.00 344.86 L416.00 344.96 L416.75 345.03 L417.10 285.00 L417.45 344.83 L418.00 344.93 L419.00 345.10 L420.00 345.28 L421.00 345.45 L422.00 345.62 L423.00 345.78 L424.00 345.95 L425.00 346.11 L426.00 346.27 L427.00 346.43 L428.00 346.59 L429.00 346.75 L430.00 346.90 L431.00 347.05 L432.00 347.20 L433.00 347.35 L434.00 347.50 L435.00 347.64 L436.00 347.79 L437.00 347.93 L438.00 348.07 L439.00 348.20 L440.00 348.34 L441.00 348.47 L442.00 348.61 L443.00 348.74 L444.00 348.87 L445.00 348.99 L446.00 349.12 L447.00 349.24 L448.00 349.37 L449.00 349.49 L450.00 349.61 L451.00 349.73 L452.00 349.84 L453.00 349.96 L454.00 350.07 L455.00 350.18 L456.00 350.29 L457.00 350.40 L458.00 350.51 L459.00 350.62 L460.00 350.72 L461.00 350.83 L462.00 350.93 L463.00 351.03 L464.00 351.13 L465.00 351.23 L466.00 351.33 L467.00 351.43 L468.00 351.53 L469.00 351.62 L470.00 351.72 L471.00 351.82 L472.00 351.91 L473.00 352.01 L474.00 352.10 L475.00 352.20 L476.00 352.29 L477.00 352.39 L478.00 352.49 L479.00 352.58 L480.00 352.68 L481.00 352.78 L482.00 352.88 L483.00 352.98 L484.00 353.08 L484.55 353.14 L484.90 329.60 L485.25 353.21 L486.00 353.28 L487.00 353.39 L488.00 353.49 L489.00 353.60 L490.00 353.71 L491.00 353.82 L492.00 353.93 L493.00 354.04 L494.00 354.16 L495.00 354.27 L496.00 354.39 L497.00 354.51 L498.00 354.63 L499.00 354.76 L500.00 354.89 L501.00 355.02 L502.00 355.15 L503.00 355.29 L504.00 355.42 L505.00 355.56 L506.00 355.71 L507.00 355.86 L508.00 356.01 L509.00 356.16 L510.00 356.32 L511.00 356.48 L512.00 356.64 L513.00 356.80 L514.00 356.97 L515.00 357.15 L516.00 357.32 L517.00 357.50 L518.00 357.68 L519.00 357.87 L520.00 358.05 L521.00 358.25 L522.00 358.44 L523.00 358.64 L524.00 358.84 L524.55 358.95 L524.90 348.30 L525.25 359.10 L526.00 359.26 L527.00 359.47 L528.00 359.68 L529.00 359.90 L530.00 360.12 L531.00 360.35 L532.00 360.58 L533.00 360.81 L534.00 361.05 L535.00 361.29 L536.00 361.53 L537.00 361.78 L538.00 362.03 L539.00 362.28 L540.00 362.54 L541.00 362.80 L542.00 363.07 L543.00 363.33 L544.00 363.61 L545.00 363.88 L546.00 364.16 L547.00 364.44 L548.00 364.73 L549.00 365.02 L550.00 365.32 L551.00 365.62 L552.00 365.92 L552.45 366.06 L552.80 365.40 L553.15 366.27 L554.00 366.53 L555.00 366.85 L556.00 367.16 L557.00 367.48 L558.00 367.81 L559.00 368.13 L560.00 368.46 L561.00 368.79 L562.00 369.12 L563.00 369.45 L564.00 369.79 L565.00 370.13 L566.00 370.46 L567.00 370.80 L568.00 371.15 L569.00 371.49 L570.00 371.83 L571.00 372.17 L572.00 372.51 L573.00 372.86 L574.00 373.20 L574.55 373.39 L574.90 367.60 L575.25 373.63 L576.00 373.88 L577.00 374.22 L578.00 374.56 L579.00 374.90 L580.00 375.24 L581.00 375.58 L582.00 375.91 L583.00 376.24 L584.00 376.58 L585.00 376.90 L586.00 377.23 L587.00 377.55 L588.00 377.88 L589.00 378.19 L590.00 378.51 L591.00 378.83 L592.00 379.14 L592.75 379.37 L593.10 346.90 L593.45 379.59 L594.00 379.76 L595.00 380.06 L596.00 380.37 L597.00 380.67 L598.00 380.97 L599.00 381.28 L600.00 381.57 L601.00 381.87 L602.00 382.17 L603.00 382.47 L604.00 382.76 L605.00 383.05 L606.00 383.35 L607.00 383.64 L607.45 383.77 L607.80 382.60 L608.15 383.98 L609.00 384.22 L610.00 384.51 L611.00 384.81 L612.00 385.10 L613.00 385.39 L614.00 385.68 L615.00 385.97 L616.00 386.26 L617.00 386.55 L618.00 386.84 L619.00 387.13 L620.00 387.42 L621.00 387.71 L622.00 388.01 L623.00 388.30 L624.00 388.59 L625.00 388.89 L626.00 389.19 L627.00 389.48 L628.00 389.78 L629.00 390.08 L630.00 390.39 L631.00 390.69 L632.00 390.99 L633.00 391.30 L634.00 391.61 L635.00 391.92 L636.00 392.23 L637.00 392.54 L638.00 392.86 L639.00 393.18 L640.00 393.50 L641.00 393.82 L642.00 394.15 L642.55 394.33 L642.90 384.80 L643.25 394.56 L644.00 394.81 L645.00 395.14 L646.00 395.48 L647.00 395.81 L648.00 396.16 L649.00 396.50 L650.00 396.85 L651.00 397.20 L652.00 397.56 L653.00 397.92 L654.00 398.28 L655.00 398.65 L656.00 399.02 L657.00 399.39 L658.00 399.77 L659.00 400.15 L660.00 400.53 L661.00 400.92 L662.00 401.31 L663.00 401.71 L664.00 402.11 L665.00 402.51 L666.00 402.91 L667.00 403.32 L668.00 403.74 L668.15 403.80 L668.50 379.60 L668.85 404.09 L669.00 404.15 L670.00 404.57 L671.00 405.00 L672.00 405.42 L673.00 405.85 L674.00 406.29 L675.00 406.72 L676.00 407.16 L677.00 407.61 L678.00 408.05 L679.00 408.50 L680.00 408.96 L681.00 409.41 L682.00 409.87 L683.00 410.33 L684.00 410.80 L685.00 411.27 L686.00 411.74 L687.00 412.21 L688.00 412.69 L689.00 413.17 L690.00 413.65 L691.00 414.14 L692.00 414.63 L693.00 415.12 L694.00 415.61 L695.00 416.11 L696.00 416.61 L697.00 417.11 L698.00 417.62 L699.00 418.13 L700.00 418.64 L701.00 419.15 L702.00 419.67 L703.00 420.19 L704.00 420.71 L705.00 421.23 L706.00 421.76 L707.00 422.29 L708.00 422.82 L709.00 423.35 L710.00 423.89 L711.00 424.43 L711.70 424.80 L712.00 424.88 L713.00 425.15 L714.00 425.36 L715.00 425.55 L716.00 425.69 L717.00 425.81 L718.00 425.90 L719.00 425.96 L720.00 426.01 L721.00 426.04 L722.00 426.06 L723.00 426.07 L724.00 426.07 L725.00 426.08 L726.00 426.08 L727.00 426.09 L728.00 426.10 L729.00 426.11 L730.00 426.11 L731.00 426.11 L732.00 426.11 L733.00 426.10 L734.00 426.08 L735.00 426.05 L736.00 426.01 L737.00 425.96 L738.00 425.89 L739.00 425.81 L740.00 425.71 L741.00 425.59 L742.00 425.46 L743.00 425.30 L744.00 425.12 L745.00 424.92 L746.00 424.69 L747.00 424.44 L748.00 424.16 L749.00 423.85 L750.00 423.52 L751.00 423.17 L752.00 422.80 L753.00 422.41 L754.00 422.02 L755.00 421.61 L756.00 421.19 L756.15 421.12 L756.50 419.20 L756.85 420.83 L757.00 420.76 L758.00 420.33 L759.00 419.90 L760.00 419.47 L761.00 419.04 L762.00 418.62 L763.00 418.21 L764.00 417.81 L765.00 417.41 L766.00 417.04 L767.00 416.68 L768.00 416.34 L769.00 416.03 L770.00 415.73 L771.00 415.47 L772.00 415.24 L773.00 415.03 L774.00 414.86 L775.00 414.73 L776.00 414.64 L777.00 414.58 L778.00 414.58 L779.00 414.61 L780.00 414.70 L781.00 414.84 L782.00 415.03 L783.00 415.28 L784.00 415.58 L785.00 415.95 L786.00 416.38 L787.00 416.88 L788.00 417.45 L789.00 418.09 L790.00 418.80 L791.00 419.59 L792.00 420.46 L793.00 421.39 L794.00 422.39 L795.00 423.44 L796.00 424.52 L797.00 425.62 L798.00 426.74 L799.00 427.86 L800.00 428.96 L801.00 430.04 L802.00 431.09 L803.00 432.09 L804.00 433.02 L805.00 433.90 L806.00 434.72 L807.00 435.47 L808.00 436.16 L809.00 436.79 L810.00 437.37 L811.00 437.88 L812.00 438.34 L813.00 438.74 L814.00 439.08 L815.00 439.37 L816.00 439.60" stroke="#ff6a0a" stroke-width="4.17"/>
</g>
<g><line x1="187.80" y1="260.00" x2="187.80" y2="267.00" stroke="#000" stroke-width="1.8"/><line x1="413.50" y1="260.00" x2="413.50" y2="267.00" stroke="#000" stroke-width="1.8"/><line x1="639.20" y1="260.00" x2="639.20" y2="267.00" stroke="#000" stroke-width="1.8"/><line x1="137.73" y1="260.00" x2="137.73" y2="264.00" stroke="#000" stroke-width="1.5"/><line x1="152.84" y1="260.00" x2="152.84" y2="264.00" stroke="#000" stroke-width="1.5"/><line x1="165.93" y1="260.00" x2="165.93" y2="264.00" stroke="#000" stroke-width="1.5"/><line x1="177.47" y1="260.00" x2="177.47" y2="264.00" stroke="#000" stroke-width="1.5"/><line x1="255.74" y1="260.00" x2="255.74" y2="264.00" stroke="#000" stroke-width="1.5"/><line x1="295.49" y1="260.00" x2="295.49" y2="264.00" stroke="#000" stroke-width="1.5"/><line x1="323.68" y1="260.00" x2="323.68" y2="264.00" stroke="#000" stroke-width="1.5"/><line x1="345.56" y1="260.00" x2="345.56" y2="264.00" stroke="#000" stroke-width="1.5"/><line x1="363.43" y1="260.00" x2="363.43" y2="264.00" stroke="#000" stroke-width="1.5"/><line x1="378.54" y1="260.00" x2="378.54" y2="264.00" stroke="#000" stroke-width="1.5"/><line x1="391.63" y1="260.00" x2="391.63" y2="264.00" stroke="#000" stroke-width="1.5"/><line x1="403.17" y1="260.00" x2="403.17" y2="264.00" stroke="#000" stroke-width="1.5"/><line x1="481.44" y1="260.00" x2="481.44" y2="264.00" stroke="#000" stroke-width="1.5"/><line x1="521.19" y1="260.00" x2="521.19" y2="264.00" stroke="#000" stroke-width="1.5"/><line x1="549.38" y1="260.00" x2="549.38" y2="264.00" stroke="#000" stroke-width="1.5"/><line x1="571.26" y1="260.00" x2="571.26" y2="264.00" stroke="#000" stroke-width="1.5"/><line x1="589.13" y1="260.00" x2="589.13" y2="264.00" stroke="#000" stroke-width="1.5"/><line x1="604.24" y1="260.00" x2="604.24" y2="264.00" stroke="#000" stroke-width="1.5"/><line x1="617.33" y1="260.00" x2="617.33" y2="264.00" stroke="#000" stroke-width="1.5"/><line x1="628.87" y1="260.00" x2="628.87" y2="264.00" stroke="#000" stroke-width="1.5"/><line x1="707.14" y1="260.00" x2="707.14" y2="264.00" stroke="#000" stroke-width="1.5"/><line x1="746.89" y1="260.00" x2="746.89" y2="264.00" stroke="#000" stroke-width="1.5"/><line x1="775.08" y1="260.00" x2="775.08" y2="264.00" stroke="#000" stroke-width="1.5"/><line x1="796.96" y1="260.00" x2="796.96" y2="264.00" stroke="#000" stroke-width="1.5"/><line x1="814.83" y1="260.00" x2="814.83" y2="264.00" stroke="#000" stroke-width="1.5"/><line x1="119.86" y1="260.00" x2="119.86" y2="264.00" stroke="#000" stroke-width="1.5"/><line x1="187.80" y1="449.00" x2="187.80" y2="456.00" stroke="#000" stroke-width="1.8"/><line x1="413.50" y1="449.00" x2="413.50" y2="456.00" stroke="#000" stroke-width="1.8"/><line x1="639.20" y1="449.00" x2="639.20" y2="456.00" stroke="#000" stroke-width="1.8"/><line x1="137.73" y1="449.00" x2="137.73" y2="453.00" stroke="#000" stroke-width="1.5"/><line x1="152.84" y1="449.00" x2="152.84" y2="453.00" stroke="#000" stroke-width="1.5"/><line x1="165.93" y1="449.00" x2="165.93" y2="453.00" stroke="#000" stroke-width="1.5"/><line x1="177.47" y1="449.00" x2="177.47" y2="453.00" stroke="#000" stroke-width="1.5"/><line x1="255.74" y1="449.00" x2="255.74" y2="453.00" stroke="#000" stroke-width="1.5"/><line x1="295.49" y1="449.00" x2="295.49" y2="453.00" stroke="#000" stroke-width="1.5"/><line x1="323.68" y1="449.00" x2="323.68" y2="453.00" stroke="#000" stroke-width="1.5"/><line x1="345.56" y1="449.00" x2="345.56" y2="453.00" stroke="#000" stroke-width="1.5"/><line x1="363.43" y1="449.00" x2="363.43" y2="453.00" stroke="#000" stroke-width="1.5"/><line x1="378.54" y1="449.00" x2="378.54" y2="453.00" stroke="#000" stroke-width="1.5"/><line x1="391.63" y1="449.00" x2="391.63" y2="453.00" stroke="#000" stroke-width="1.5"/><line x1="403.17" y1="449.00" x2="403.17" y2="453.00" stroke="#000" stroke-width="1.5"/><line x1="481.44" y1="449.00" x2="481.44" y2="453.00" stroke="#000" stroke-width="1.5"/><line x1="521.19" y1="449.00" x2="521.19" y2="453.00" stroke="#000" stroke-width="1.5"/><line x1="549.38" y1="449.00" x2="549.38" y2="453.00" stroke="#000" stroke-width="1.5"/><line x1="571.26" y1="449.00" x2="571.26" y2="453.00" stroke="#000" stroke-width="1.5"/><line x1="589.13" y1="449.00" x2="589.13" y2="453.00" stroke="#000" stroke-width="1.5"/><line x1="604.24" y1="449.00" x2="604.24" y2="453.00" stroke="#000" stroke-width="1.5"/><line x1="617.33" y1="449.00" x2="617.33" y2="453.00" stroke="#000" stroke-width="1.5"/><line x1="628.87" y1="449.00" x2="628.87" y2="453.00" stroke="#000" stroke-width="1.5"/><line x1="707.14" y1="449.00" x2="707.14" y2="453.00" stroke="#000" stroke-width="1.5"/><line x1="746.89" y1="449.00" x2="746.89" y2="453.00" stroke="#000" stroke-width="1.5"/><line x1="775.08" y1="449.00" x2="775.08" y2="453.00" stroke="#000" stroke-width="1.5"/><line x1="796.96" y1="449.00" x2="796.96" y2="453.00" stroke="#000" stroke-width="1.5"/><line x1="814.83" y1="449.00" x2="814.83" y2="453.00" stroke="#000" stroke-width="1.5"/><line x1="119.86" y1="449.00" x2="119.86" y2="453.00" stroke="#000" stroke-width="1.5"/><line x1="113.00" y1="88.00" x2="120.00" y2="88.00" stroke="#000" stroke-width="1.8"/><line x1="113.00" y1="183.90" x2="120.00" y2="183.90" stroke="#000" stroke-width="1.8"/><line x1="113.00" y1="320.60" x2="120.00" y2="320.60" stroke="#000" stroke-width="1.8"/><line x1="113.00" y1="363.38" x2="120.00" y2="363.38" stroke="#000" stroke-width="1.8"/><line x1="113.00" y1="406.16" x2="120.00" y2="406.16" stroke="#000" stroke-width="1.8"/><line x1="113.00" y1="449.00" x2="120.00" y2="449.00" stroke="#000" stroke-width="1.8"/><line x1="116.00" y1="59.13" x2="120.00" y2="59.13" stroke="#000" stroke-width="1.5"/><line x1="116.00" y1="42.24" x2="120.00" y2="42.24" stroke="#000" stroke-width="1.5"/><line x1="116.00" y1="30.26" x2="120.00" y2="30.26" stroke="#000" stroke-width="1.5"/><line x1="116.00" y1="20.97" x2="120.00" y2="20.97" stroke="#000" stroke-width="1.5"/><line x1="116.00" y1="13.38" x2="120.00" y2="13.38" stroke="#000" stroke-width="1.5"/><line x1="116.00" y1="155.03" x2="120.00" y2="155.03" stroke="#000" stroke-width="1.5"/><line x1="116.00" y1="138.14" x2="120.00" y2="138.14" stroke="#000" stroke-width="1.5"/><line x1="116.00" y1="126.16" x2="120.00" y2="126.16" stroke="#000" stroke-width="1.5"/><line x1="116.00" y1="116.87" x2="120.00" y2="116.87" stroke="#000" stroke-width="1.5"/><line x1="116.00" y1="109.28" x2="120.00" y2="109.28" stroke="#000" stroke-width="1.5"/><line x1="116.00" y1="102.86" x2="120.00" y2="102.86" stroke="#000" stroke-width="1.5"/><line x1="116.00" y1="97.29" x2="120.00" y2="97.29" stroke="#000" stroke-width="1.5"/><line x1="116.00" y1="92.39" x2="120.00" y2="92.39" stroke="#000" stroke-width="1.5"/><line x1="116.00" y1="250.93" x2="120.00" y2="250.93" stroke="#000" stroke-width="1.5"/><line x1="116.00" y1="234.04" x2="120.00" y2="234.04" stroke="#000" stroke-width="1.5"/><line x1="116.00" y1="222.06" x2="120.00" y2="222.06" stroke="#000" stroke-width="1.5"/><line x1="116.00" y1="212.77" x2="120.00" y2="212.77" stroke="#000" stroke-width="1.5"/><line x1="116.00" y1="205.18" x2="120.00" y2="205.18" stroke="#000" stroke-width="1.5"/><line x1="116.00" y1="198.76" x2="120.00" y2="198.76" stroke="#000" stroke-width="1.5"/><line x1="116.00" y1="193.19" x2="120.00" y2="193.19" stroke="#000" stroke-width="1.5"/><line x1="116.00" y1="188.29" x2="120.00" y2="188.29" stroke="#000" stroke-width="1.5"/><line x1="116.00" y1="7.00" x2="120.00" y2="7.00" stroke="#000" stroke-width="1.5"/></g>
<g stroke="#000" stroke-linecap="square">
<line x1="120.00" y1="7.30" x2="120.00" y2="260.00" stroke-width="2"/>
<line x1="120.00" y1="260.00" x2="822.70" y2="260.00" stroke-width="2"/>
<line x1="120.00" y1="7.00" x2="822.90" y2="7.00" stroke-width="1.9"/>
<line x1="822.90" y1="7.00" x2="822.90" y2="260.00" stroke-width="1.5"/>
</g>
<g stroke="#000" stroke-linecap="square">
<line x1="120.00" y1="300.30" x2="120.00" y2="449.00" stroke-width="2"/>
<line x1="120.00" y1="449.00" x2="822.70" y2="449.00" stroke-width="2"/>
<line x1="120.00" y1="300.00" x2="822.90" y2="300.00" stroke-width="1.9"/>
<line x1="822.90" y1="300.00" x2="822.90" y2="449.00" stroke-width="1.5"/>
</g>
<rect x="190.2" y="12.2" width="447.8" height="82.95" rx="2.8" ry="2.8" fill="#fff" stroke="#cccccc" stroke-width="1.4"/>
<g fill="none">
<line x1="195.0" y1="26.6" x2="235.0" y2="26.6" stroke="#000" stroke-width="4.17"/>
<line x1="195.6" y1="52.6" x2="234.4" y2="52.6" stroke="#808080" stroke-width="2.90"/>
<line x1="197.0" y1="78.6" x2="233.0" y2="78.6" stroke="#bf7fbf" stroke-width="2.90" stroke-dasharray="11.06 4.7"/>
<line x1="404.9" y1="26.6" x2="443.3" y2="26.6" stroke="#800080" stroke-width="2.90"/>
<line x1="404.1" y1="52.8" x2="444.0" y2="52.8" stroke="#ff6a0a" stroke-width="4.17"/>
</g>
<text x="246.17" y="32.70" font-size="17.60" textLength="35.34" lengthAdjust="spacingAndGlyphs">CE2</text>
<text x="281.40" y="32.70" font-size="17.60" textLength="13.99" lengthAdjust="spacingAndGlyphs">+</text>
<text x="295.62" y="32.70" font-size="17.60" textLength="14.47" lengthAdjust="spacingAndGlyphs">Si</text>
<text x="317.85" y="32.70" font-size="17.60" textLength="40.10" lengthAdjust="spacingAndGlyphs">Sum</text>
<text x="247.10" y="58.90" font-size="17.60" textLength="40.89" lengthAdjust="spacingAndGlyphs">Total</text>
<text x="293.81" y="58.90" font-size="17.60" textLength="77.36" lengthAdjust="spacingAndGlyphs">Classical</text>
<text x="246.60" y="84.90" font-size="17.60" textLength="82.29" lengthAdjust="spacingAndGlyphs">Quantum</text>
<text x="334.86" y="84.90" font-size="17.60" textLength="34.99" lengthAdjust="spacingAndGlyphs">SQL</text>
<text x="455.90" y="32.70" font-size="17.60" textLength="82.29" lengthAdjust="spacingAndGlyphs">Quantum</text>
<text x="543.96" y="32.70" font-size="17.60" textLength="86.92" lengthAdjust="spacingAndGlyphs">Squeezed</text>
<text x="455.89" y="58.70" font-size="17.60" textLength="78.86" lengthAdjust="spacingAndGlyphs">Counting</text>
<text x="541.72" y="58.70" font-size="17.60" textLength="52.39" lengthAdjust="spacingAndGlyphs">FIRSD</text>
<text x="170.04" y="478.30" font-size="20.10" textLength="24.32" lengthAdjust="spacingAndGlyphs">10</text>
<text x="196.01" y="470.80" font-size="14.20" textLength="7.53" lengthAdjust="spacingAndGlyphs">1</text>
<text x="395.76" y="478.30" font-size="20.10" textLength="24.10" lengthAdjust="spacingAndGlyphs">10</text>
<text x="420.63" y="470.80" font-size="14.20" textLength="9.12" lengthAdjust="spacingAndGlyphs">2</text>
<text x="621.53" y="478.30" font-size="20.10" textLength="24.43" lengthAdjust="spacingAndGlyphs">10</text>
<text x="647.43" y="470.80" font-size="14.20" textLength="8.52" lengthAdjust="spacingAndGlyphs">3</text>
<text x="51.03" y="94.90" font-size="20.10" textLength="24.43" lengthAdjust="spacingAndGlyphs">10</text>
<text x="76.94" y="87.00" font-size="14.20" textLength="27.77" lengthAdjust="spacingAndGlyphs">−24</text>
<text x="51.03" y="190.80" font-size="20.10" textLength="24.43" lengthAdjust="spacingAndGlyphs">10</text>
<text x="76.64" y="182.70" font-size="14.20" textLength="27.73" lengthAdjust="spacingAndGlyphs">−25</text>
<text x="273.59" y="507.00" font-size="20.50" textLength="59.39" lengthAdjust="spacingAndGlyphs">Signal</text>
<text x="339.90" y="507.00" font-size="20.50" textLength="119.96" lengthAdjust="spacingAndGlyphs">Observation</text>
<text x="465.80" y="507.00" font-size="20.50" textLength="103.33" lengthAdjust="spacingAndGlyphs">Frequency</text>
<text x="575.64" y="507.00" font-size="20.50" textLength="15.89" lengthAdjust="spacingAndGlyphs">Ω</text>
<text x="590.86" y="507.00" font-size="20.50" textLength="7.61" lengthAdjust="spacingAndGlyphs">/</text>
<text x="597.35" y="507.00" font-size="20.50" textLength="11.54" lengthAdjust="spacingAndGlyphs">2</text>
<text x="609.17" y="507.00" font-size="20.50" textLength="10.52" lengthAdjust="spacingAndGlyphs" font-style="italic">π</text>
<text x="628.02" y="507.00" font-size="20.50" textLength="40.09" lengthAdjust="spacingAndGlyphs">[Hz]</text>
<text transform="translate(36.80 228.05) rotate(-90)" font-size="20.50" textLength="58.04" lengthAdjust="spacingAndGlyphs">Strain</text>
<text transform="translate(36.80 162.47) rotate(-90)" font-size="20.50" textLength="39.69" lengthAdjust="spacingAndGlyphs">ASD</text>
<text transform="translate(36.80 115.62) rotate(-90)" font-size="20.50" textLength="5.32" lengthAdjust="spacingAndGlyphs">[</text>
<text transform="translate(36.80 109.28) rotate(-90)" font-size="20.50" textLength="12.40" lengthAdjust="spacingAndGlyphs">1</text>
<text transform="translate(36.80 95.35) rotate(-90)" font-size="20.50" textLength="6.21" lengthAdjust="spacingAndGlyphs">/</text>
<text transform="translate(36.80 74.37) rotate(-90)" font-size="20.50" textLength="12.90" lengthAdjust="spacingAndGlyphs">H</text>
<text transform="translate(36.80 60.27) rotate(-90)" font-size="20.50" textLength="10.19" lengthAdjust="spacingAndGlyphs">z</text>
<text transform="translate(36.80 45.73) rotate(-90)" font-size="20.50" textLength="5.82" lengthAdjust="spacingAndGlyphs">]</text>
<text transform="translate(23.00 451.39) rotate(-90)" font-size="20.50" textLength="86.22" lengthAdjust="spacingAndGlyphs">Classical</text>
<text transform="translate(23.00 358.96) rotate(-90)" font-size="20.50" textLength="54.64" lengthAdjust="spacingAndGlyphs">Noise</text>
<text transform="translate(45.00 474.88) rotate(-90)" font-size="20.50" textLength="40.97" lengthAdjust="spacingAndGlyphs">Flux</text>
<text transform="translate(45.00 427.54) rotate(-90)" font-size="20.50" textLength="5.43" lengthAdjust="spacingAndGlyphs">[</text>
<text transform="translate(45.00 420.15) rotate(-90)" font-size="20.50" textLength="67.49" lengthAdjust="spacingAndGlyphs">quanta</text>
<text transform="translate(45.00 343.75) rotate(-90)" font-size="20.50" textLength="6.21" lengthAdjust="spacingAndGlyphs">/</text>
<text transform="translate(45.00 332.07) rotate(-90)" font-size="20.50" textLength="11.20" lengthAdjust="spacingAndGlyphs">s</text>
<text transform="translate(45.00 317.76) rotate(-90)" font-size="20.50" textLength="6.50" lengthAdjust="spacingAndGlyphs">·</text>
<text transform="translate(45.00 307.54) rotate(-90)" font-size="20.50" textLength="14.44" lengthAdjust="spacingAndGlyphs">H</text>
<text transform="translate(45.00 292.89) rotate(-90)" font-size="20.50" textLength="10.43" lengthAdjust="spacingAndGlyphs">z</text>
<text transform="translate(45.00 280.93) rotate(-90)" font-size="20.50" textLength="5.69" lengthAdjust="spacingAndGlyphs">]</text>
<text x="58.97" y="327.00" font-size="20.10" textLength="23.99" lengthAdjust="spacingAndGlyphs">10</text>
<text x="84.27" y="319.10" font-size="14.20" textLength="20.05" lengthAdjust="spacingAndGlyphs">−2</text>
<text x="58.97" y="369.78" font-size="20.10" textLength="23.99" lengthAdjust="spacingAndGlyphs">10</text>
<text x="84.27" y="361.88" font-size="14.20" textLength="19.99" lengthAdjust="spacingAndGlyphs">−3</text>
<text x="58.97" y="412.56" font-size="20.10" textLength="23.99" lengthAdjust="spacingAndGlyphs">10</text>
<text x="84.32" y="404.66" font-size="14.20" textLength="19.01" lengthAdjust="spacingAndGlyphs">−4</text>
<text x="58.97" y="455.34" font-size="20.10" textLength="23.99" lengthAdjust="spacingAndGlyphs">10</text>
<text x="84.32" y="447.44" font-size="14.20" textLength="19.08" lengthAdjust="spacingAndGlyphs">−5</text>
<path d="M26.3 88.4 L27.4 86.6 L36.9 83.4 L17.2 77.4 L17.2 47.4" fill="none" stroke="#000" stroke-width="1.3" stroke-linejoin="miter"/>
<path d="M27.6 86.5 L36.6 83.5" fill="none" stroke="#000" stroke-width="2.3"/>
</svg>
</body></html>
